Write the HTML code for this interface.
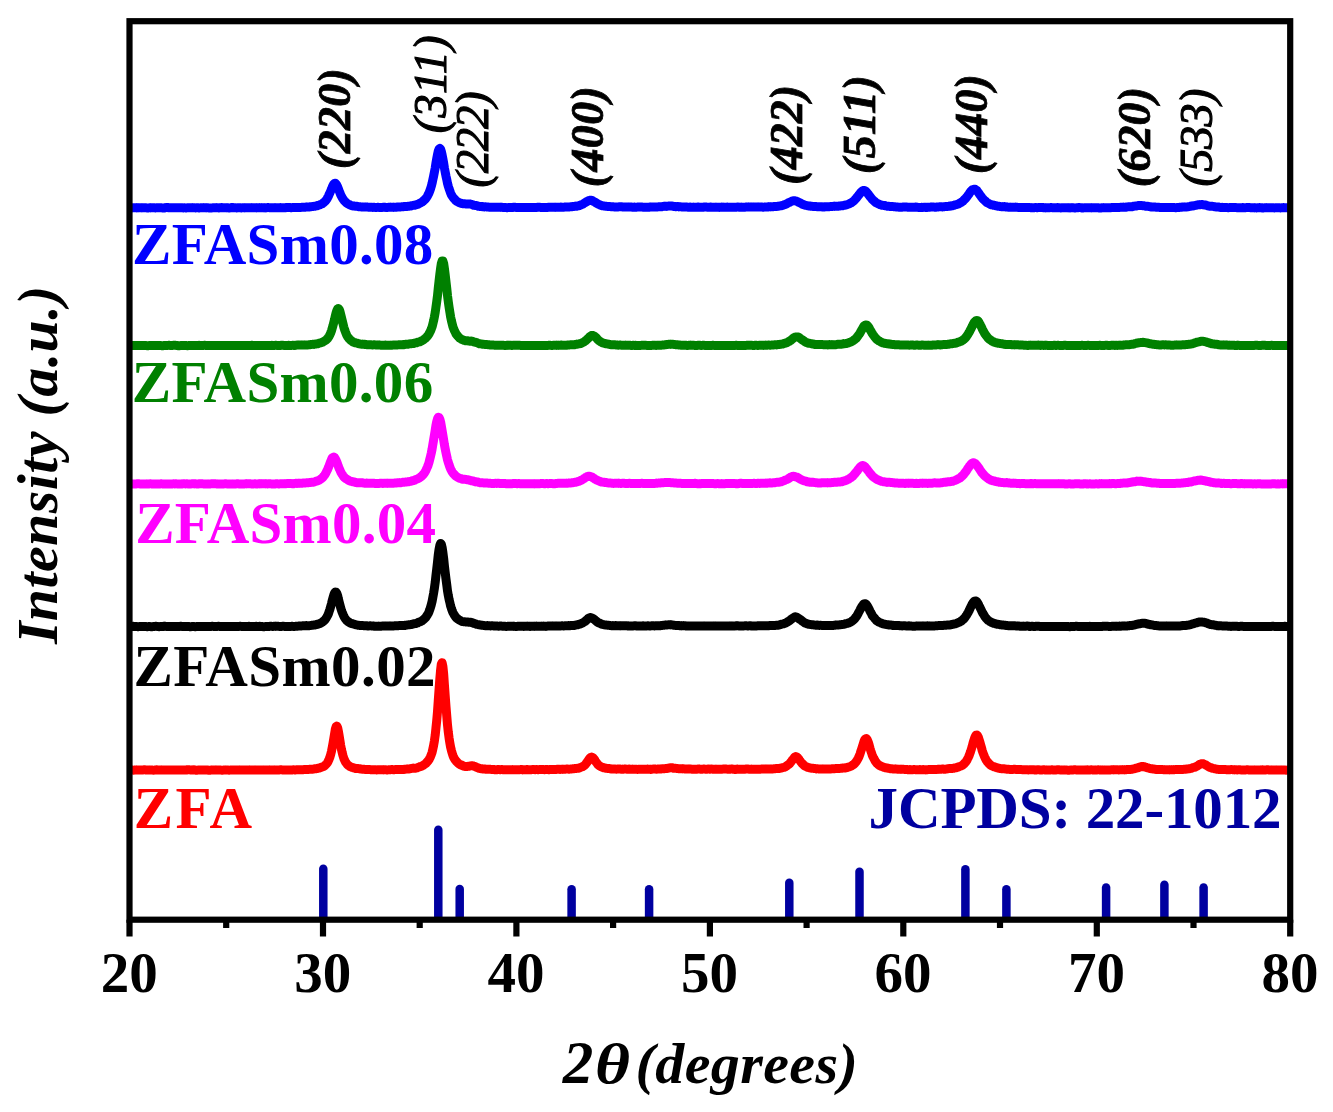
<!DOCTYPE html>
<html><head><meta charset="utf-8"><title>XRD patterns</title>
<style>html,body{margin:0;padding:0;background:#fff;}svg{display:block;}</style></head>
<body>
<svg width="1333" height="1112" viewBox="0 0 1333 1112">
<rect width="1333" height="1112" fill="#fff"/>
<line x1="323.3" y1="868.75" x2="323.3" y2="916.7" stroke="#0000a0" stroke-width="8.5" stroke-linecap="round"/>
<line x1="438.3" y1="829.75" x2="438.3" y2="916.7" stroke="#0000a0" stroke-width="8.5" stroke-linecap="round"/>
<line x1="459.7" y1="889.05" x2="459.7" y2="916.7" stroke="#0000a0" stroke-width="8.5" stroke-linecap="round"/>
<line x1="571.6" y1="889.35" x2="571.6" y2="916.7" stroke="#0000a0" stroke-width="8.5" stroke-linecap="round"/>
<line x1="649.1" y1="889.35" x2="649.1" y2="916.7" stroke="#0000a0" stroke-width="8.5" stroke-linecap="round"/>
<line x1="789.3" y1="882.65" x2="789.3" y2="916.7" stroke="#0000a0" stroke-width="8.5" stroke-linecap="round"/>
<line x1="859.5" y1="871.85" x2="859.5" y2="916.7" stroke="#0000a0" stroke-width="8.5" stroke-linecap="round"/>
<line x1="965.4" y1="869.15" x2="965.4" y2="916.7" stroke="#0000a0" stroke-width="8.5" stroke-linecap="round"/>
<line x1="1006.4" y1="889.35" x2="1006.4" y2="916.7" stroke="#0000a0" stroke-width="8.5" stroke-linecap="round"/>
<line x1="1106.1" y1="887.45" x2="1106.1" y2="916.7" stroke="#0000a0" stroke-width="8.5" stroke-linecap="round"/>
<line x1="1164.4" y1="884.75" x2="1164.4" y2="916.7" stroke="#0000a0" stroke-width="8.5" stroke-linecap="round"/>
<line x1="1203.6" y1="887.45" x2="1203.6" y2="916.7" stroke="#0000a0" stroke-width="8.5" stroke-linecap="round"/>
<polyline points="129.5,770.0 130.3,770.1 131.0,770.0 131.8,770.1 132.6,770.0 133.4,770.2 134.1,770.1 134.9,770.1 135.7,770.0 136.5,770.1 137.2,770.0 138.0,770.0 138.8,770.0 139.6,770.0 140.3,769.9 141.1,769.9 141.9,770.0 142.7,770.0 143.4,769.9 144.2,769.8 145.0,769.8 145.7,770.0 146.5,770.0 147.3,770.0 148.1,770.0 148.8,770.0 149.6,770.1 150.4,770.1 151.2,770.1 151.9,770.1 152.7,770.1 153.5,770.2 154.3,770.1 155.0,770.0 155.8,769.9 156.6,769.8 157.4,769.9 158.1,770.1 158.9,770.0 159.7,770.0 160.5,770.0 161.2,770.1 162.0,770.0 162.8,770.0 163.5,770.0 164.3,770.0 165.1,770.0 165.9,770.0 166.6,770.0 167.4,770.0 168.2,769.9 169.0,769.9 169.7,769.9 170.5,770.1 171.3,770.0 172.1,770.0 172.8,770.0 173.6,770.0 174.4,769.9 175.2,770.0 175.9,769.9 176.7,770.0 177.5,769.9 178.2,770.0 179.0,770.0 179.8,770.0 180.6,769.9 181.3,769.9 182.1,770.0 182.9,770.0 183.7,770.0 184.4,770.0 185.2,770.0 186.0,769.9 186.8,769.9 187.5,769.7 188.3,769.8 189.1,769.8 189.9,769.9 190.6,770.0 191.4,770.1 192.2,770.1 193.0,770.0 193.7,769.8 194.5,769.9 195.3,770.0 196.0,770.2 196.8,770.2 197.6,770.1 198.4,770.0 199.1,769.9 199.9,769.9 200.7,770.0 201.5,770.0 202.2,770.0 203.0,770.0 203.8,769.9 204.6,769.9 205.3,769.9 206.1,769.9 206.9,769.9 207.7,770.0 208.4,770.2 209.2,770.2 210.0,770.2 210.7,770.1 211.5,770.1 212.3,770.0 213.1,769.9 213.8,769.9 214.6,770.0 215.4,770.1 216.2,770.1 216.9,770.0 217.7,769.9 218.5,770.0 219.3,770.0 220.0,770.0 220.8,770.0 221.6,770.2 222.4,770.2 223.1,770.1 223.9,770.0 224.7,770.0 225.5,770.1 226.2,770.1 227.0,770.1 227.8,770.1 228.5,770.1 229.3,770.2 230.1,770.0 230.9,770.0 231.6,769.9 232.4,770.0 233.2,770.0 234.0,769.9 234.7,770.0 235.5,770.0 236.3,770.0 237.1,770.0 237.8,770.0 238.6,770.0 239.4,770.1 240.2,770.0 240.9,770.0 241.7,769.9 242.5,769.9 243.2,769.9 244.0,770.0 244.8,769.9 245.6,770.0 246.3,769.9 247.1,769.9 247.9,769.9 248.7,770.0 249.4,770.1 250.2,770.0 251.0,769.9 251.8,769.9 252.5,769.9 253.3,770.0 254.1,770.1 254.9,770.1 255.6,770.1 256.4,770.0 257.2,770.0 258.0,769.9 258.7,769.9 259.5,770.0 260.3,770.0 261.0,769.9 261.8,770.0 262.6,770.0 263.4,770.1 264.1,770.1 264.9,770.1 265.7,770.1 266.5,770.1 267.2,769.9 268.0,770.0 268.8,770.0 269.6,770.1 270.3,770.0 271.1,770.0 271.9,769.9 272.7,769.9 273.4,770.0 274.2,770.1 275.0,770.0 275.7,769.9 276.5,769.9 277.3,769.9 278.1,770.0 278.8,769.9 279.6,769.9 280.4,769.8 281.2,769.8 281.9,769.9 282.7,770.0 283.5,770.0 284.3,770.0 285.0,769.9 285.8,770.0 286.6,770.0 287.4,769.9 288.1,769.9 288.9,769.9 289.7,770.0 290.5,770.0 291.2,770.0 292.0,769.9 292.8,769.9 293.5,769.8 294.3,769.9 295.1,769.9 295.9,769.9 296.6,769.8 297.4,769.8 298.2,769.7 299.0,769.7 299.7,769.7 300.5,769.7 301.3,769.7 302.1,769.8 302.8,769.7 303.6,769.6 304.4,769.6 305.2,769.6 305.9,769.6 306.7,769.4 307.5,769.4 308.2,769.4 309.0,769.4 309.8,769.3 310.6,769.2 311.3,769.2 312.1,769.2 312.9,769.2 313.7,769.0 314.4,768.9 315.2,768.7 316.0,768.7 316.8,768.6 317.5,768.4 318.3,768.2 319.1,768.1 319.9,767.9 320.6,767.5 321.4,767.2 322.2,766.9 322.9,766.8 323.7,766.4 324.5,765.8 325.3,765.1 326.0,764.4 326.8,763.6 327.6,762.4 328.4,760.9 329.1,759.2 329.9,757.1 330.7,754.5 331.5,751.2 332.2,747.5 333.0,743.2 333.8,738.5 334.6,733.7 335.3,729.4 336.1,726.7 336.9,726.1 337.7,727.8 338.4,731.3 339.2,735.9 340.0,740.9 340.7,745.5 341.5,749.6 342.3,753.0 343.1,756.0 343.8,758.3 344.6,760.1 345.4,761.8 346.2,762.9 346.9,764.1 347.7,764.8 348.5,765.6 349.3,766.0 350.0,766.5 350.8,766.9 351.6,767.2 352.4,767.5 353.1,767.7 353.9,768.0 354.7,768.2 355.4,768.4 356.2,768.4 357.0,768.6 357.8,768.6 358.5,768.6 359.3,768.7 360.1,768.9 360.9,769.1 361.6,769.1 362.4,769.2 363.2,769.2 364.0,769.3 364.7,769.4 365.5,769.4 366.3,769.5 367.1,769.5 367.8,769.6 368.6,769.6 369.4,769.6 370.2,769.6 370.9,769.7 371.7,769.8 372.5,769.8 373.2,769.8 374.0,769.8 374.8,769.8 375.6,769.8 376.3,769.9 377.1,769.9 377.9,769.8 378.7,769.8 379.4,769.7 380.2,769.8 381.0,769.7 381.8,769.8 382.5,769.8 383.3,769.9 384.1,769.8 384.9,769.7 385.6,769.8 386.4,769.9 387.2,769.9 387.9,769.9 388.7,769.8 389.5,769.8 390.3,769.7 391.0,769.6 391.8,769.6 392.6,769.6 393.4,769.7 394.1,769.7 394.9,769.6 395.7,769.6 396.5,769.6 397.2,769.6 398.0,769.6 398.8,769.5 399.6,769.4 400.3,769.5 401.1,769.4 401.9,769.5 402.7,769.4 403.4,769.4 404.2,769.4 405.0,769.2 405.7,769.2 406.5,769.0 407.3,769.1 408.1,769.0 408.8,769.0 409.6,768.9 410.4,768.7 411.2,768.5 411.9,768.4 412.7,768.3 413.5,768.1 414.3,768.2 415.0,768.2 415.8,768.2 416.6,768.0 417.4,767.7 418.1,767.4 418.9,767.1 419.7,766.8 420.4,766.5 421.2,766.3 422.0,766.0 422.8,765.6 423.5,765.1 424.3,764.5 425.1,764.0 425.9,763.4 426.6,762.5 427.4,761.7 428.2,760.8 429.0,759.7 429.7,758.3 430.5,756.7 431.3,754.7 432.1,752.3 432.8,749.2 433.6,745.5 434.4,740.9 435.2,735.2 435.9,728.5 436.7,720.7 437.5,711.7 438.2,701.5 439.0,690.3 439.8,679.4 440.6,670.0 441.3,664.0 442.1,662.7 442.9,666.4 443.7,674.2 444.4,684.5 445.2,695.7 446.0,706.5 446.8,716.3 447.5,724.8 448.3,732.2 449.1,738.2 449.9,743.2 450.6,747.1 451.4,750.4 452.2,753.2 452.9,755.5 453.7,757.4 454.5,758.9 455.3,760.0 456.0,761.0 456.8,761.8 457.6,762.6 458.4,763.3 459.1,764.1 459.9,764.5 460.7,764.9 461.5,765.0 462.2,765.5 463.0,765.8 463.8,766.2 464.6,766.4 465.3,766.5 466.1,766.4 466.9,766.4 467.7,766.4 468.4,766.3 469.2,766.2 470.0,766.0 470.7,765.9 471.5,765.8 472.3,765.8 473.1,765.9 473.8,766.1 474.6,766.3 475.4,766.7 476.2,767.2 476.9,767.4 477.7,767.7 478.5,768.0 479.3,768.4 480.0,768.5 480.8,768.7 481.6,768.7 482.4,768.9 483.1,768.9 483.9,769.0 484.7,769.1 485.4,769.1 486.2,769.3 487.0,769.3 487.8,769.3 488.5,769.2 489.3,769.2 490.1,769.3 490.9,769.4 491.6,769.4 492.4,769.4 493.2,769.4 494.0,769.5 494.7,769.7 495.5,769.7 496.3,769.8 497.1,769.6 497.8,769.5 498.6,769.6 499.4,769.6 500.2,769.7 500.9,769.6 501.7,769.6 502.5,769.6 503.2,769.7 504.0,769.7 504.8,769.7 505.6,769.8 506.3,769.7 507.1,769.7 507.9,769.7 508.7,769.7 509.4,769.7 510.2,769.7 511.0,769.7 511.8,769.7 512.5,769.6 513.3,769.7 514.1,769.7 514.9,769.8 515.6,769.7 516.4,769.8 517.2,769.7 517.9,769.7 518.7,769.7 519.5,769.7 520.3,769.6 521.0,769.6 521.8,769.6 522.6,769.9 523.4,769.8 524.1,769.8 524.9,769.8 525.7,769.8 526.5,769.6 527.2,769.6 528.0,769.6 528.8,769.7 529.6,769.7 530.3,769.7 531.1,769.7 531.9,769.6 532.6,769.6 533.4,769.5 534.2,769.5 535.0,769.7 535.7,769.6 536.5,769.6 537.3,769.6 538.1,769.7 538.8,769.6 539.6,769.5 540.4,769.5 541.2,769.6 541.9,769.6 542.7,769.6 543.5,769.5 544.3,769.7 545.0,769.6 545.8,769.6 546.6,769.4 547.4,769.5 548.1,769.6 548.9,769.7 549.7,769.6 550.4,769.4 551.2,769.4 552.0,769.4 552.8,769.5 553.5,769.4 554.3,769.4 555.1,769.5 555.9,769.5 556.6,769.4 557.4,769.3 558.2,769.2 559.0,769.3 559.7,769.4 560.5,769.4 561.3,769.3 562.1,769.3 562.8,769.4 563.6,769.3 564.4,769.2 565.1,769.2 565.9,769.1 566.7,769.0 567.5,769.0 568.2,769.1 569.0,769.2 569.8,769.1 570.6,769.0 571.3,768.9 572.1,768.9 572.9,768.8 573.7,768.7 574.4,768.6 575.2,768.6 576.0,768.5 576.8,768.4 577.5,768.3 578.3,768.3 579.1,768.0 579.9,767.7 580.6,767.4 581.4,767.1 582.2,766.8 582.9,766.5 583.7,766.0 584.5,765.4 585.3,764.7 586.0,763.6 586.8,762.6 587.6,761.5 588.4,760.3 589.1,759.2 589.9,758.1 590.7,757.4 591.5,757.1 592.2,757.3 593.0,757.8 593.8,758.6 594.6,759.7 595.3,761.0 596.1,762.1 596.9,763.2 597.6,764.2 598.4,765.0 599.2,765.6 600.0,766.1 600.7,766.5 601.5,766.9 602.3,767.2 603.1,767.5 603.8,767.8 604.6,767.9 605.4,768.1 606.2,768.3 606.9,768.4 607.7,768.5 608.5,768.4 609.3,768.6 610.0,768.7 610.8,768.9 611.6,768.9 612.4,768.9 613.1,768.9 613.9,768.9 614.7,769.0 615.4,769.0 616.2,769.2 617.0,769.1 617.8,769.1 618.5,768.9 619.3,768.9 620.1,769.0 620.9,769.2 621.6,769.2 622.4,769.1 623.2,769.2 624.0,769.1 624.7,769.1 625.5,769.0 626.3,769.1 627.1,769.2 627.8,769.2 628.6,769.1 629.4,769.1 630.1,769.3 630.9,769.3 631.7,769.2 632.5,769.1 633.2,769.2 634.0,769.2 634.8,769.2 635.6,769.2 636.3,769.3 637.1,769.4 637.9,769.4 638.7,769.3 639.4,769.3 640.2,769.3 641.0,769.3 641.8,769.2 642.5,769.3 643.3,769.2 644.1,769.2 644.9,769.3 645.6,769.3 646.4,769.2 647.2,769.1 647.9,769.1 648.7,769.2 649.5,769.3 650.3,769.4 651.0,769.4 651.8,769.2 652.6,769.1 653.4,769.0 654.1,769.0 654.9,769.1 655.7,769.1 656.5,769.2 657.2,769.1 658.0,769.1 658.8,769.1 659.6,769.1 660.3,769.1 661.1,769.0 661.9,768.8 662.6,768.8 663.4,768.7 664.2,768.7 665.0,768.6 665.7,768.5 666.5,768.4 667.3,768.4 668.1,768.2 668.8,768.1 669.6,767.9 670.4,767.8 671.2,767.7 671.9,767.7 672.7,767.9 673.5,768.2 674.3,768.2 675.0,768.3 675.8,768.3 676.6,768.5 677.4,768.5 678.1,768.6 678.9,768.7 679.7,768.8 680.4,768.8 681.2,768.8 682.0,768.8 682.8,768.9 683.5,768.8 684.3,768.9 685.1,768.9 685.9,769.0 686.6,769.0 687.4,769.0 688.2,769.1 689.0,769.0 689.7,769.1 690.5,769.1 691.3,769.1 692.1,769.2 692.8,769.2 693.6,769.3 694.4,769.2 695.1,769.2 695.9,769.2 696.7,769.2 697.5,769.1 698.2,769.0 699.0,769.1 699.8,769.1 700.6,769.2 701.3,769.2 702.1,769.2 702.9,769.1 703.7,769.0 704.4,769.0 705.2,769.2 706.0,769.2 706.8,769.2 707.5,769.1 708.3,769.0 709.1,769.0 709.8,769.2 710.6,769.1 711.4,769.1 712.2,769.1 712.9,769.2 713.7,769.3 714.5,769.2 715.3,769.2 716.0,769.1 716.8,769.2 717.6,769.3 718.4,769.3 719.1,769.3 719.9,769.3 720.7,769.3 721.5,769.2 722.2,769.2 723.0,769.0 723.8,769.1 724.6,769.1 725.3,769.1 726.1,769.0 726.9,769.1 727.6,769.2 728.4,769.2 729.2,769.1 730.0,769.2 730.7,769.1 731.5,769.1 732.3,769.0 733.1,769.1 733.8,769.3 734.6,769.5 735.4,769.5 736.2,769.2 736.9,769.1 737.7,769.1 738.5,769.2 739.3,769.3 740.0,769.3 740.8,769.3 741.6,769.2 742.3,769.2 743.1,769.2 743.9,769.2 744.7,769.2 745.4,769.1 746.2,769.0 747.0,769.0 747.8,769.0 748.5,769.1 749.3,769.2 750.1,769.2 750.9,769.2 751.6,769.1 752.4,769.2 753.2,769.2 754.0,769.3 754.7,769.2 755.5,769.2 756.3,769.2 757.1,769.2 757.8,769.3 758.6,769.2 759.4,769.2 760.1,769.2 760.9,769.1 761.7,769.0 762.5,768.9 763.2,768.9 764.0,768.9 764.8,769.0 765.6,769.1 766.3,769.1 767.1,769.1 767.9,769.0 768.7,768.9 769.4,769.0 770.2,769.0 771.0,769.1 771.8,769.0 772.5,769.0 773.3,768.9 774.1,768.8 774.8,768.7 775.6,768.6 776.4,768.6 777.2,768.5 777.9,768.4 778.7,768.4 779.5,768.4 780.3,768.2 781.0,768.1 781.8,767.9 782.6,767.7 783.4,767.5 784.1,767.3 784.9,767.1 785.7,766.7 786.5,766.0 787.2,765.5 788.0,764.9 788.8,764.3 789.6,763.7 790.3,762.8 791.1,761.8 791.9,760.7 792.6,759.7 793.4,758.7 794.2,757.7 795.0,757.0 795.7,756.6 796.5,756.8 797.3,757.3 798.1,758.2 798.8,759.1 799.6,760.3 800.4,761.3 801.2,762.4 801.9,763.2 802.7,764.0 803.5,764.8 804.3,765.5 805.0,766.0 805.8,766.4 806.6,766.8 807.3,767.2 808.1,767.5 808.9,767.7 809.7,767.9 810.4,768.0 811.2,768.1 812.0,768.3 812.8,768.3 813.5,768.4 814.3,768.4 815.1,768.6 815.9,768.7 816.6,768.9 817.4,768.8 818.2,768.9 819.0,768.9 819.7,769.0 820.5,769.0 821.3,769.0 822.1,769.0 822.8,769.1 823.6,769.0 824.4,769.0 825.1,769.0 825.9,769.0 826.7,769.0 827.5,768.9 828.2,769.0 829.0,769.0 829.8,769.0 830.6,768.9 831.3,768.9 832.1,768.8 832.9,768.8 833.7,768.8 834.4,768.7 835.2,768.6 836.0,768.6 836.8,768.5 837.5,768.5 838.3,768.5 839.1,768.5 839.8,768.5 840.6,768.3 841.4,768.3 842.2,768.1 842.9,768.1 843.7,767.9 844.5,767.9 845.3,767.9 846.0,767.7 846.8,767.7 847.6,767.3 848.4,767.2 849.1,766.8 849.9,766.6 850.7,766.3 851.5,765.9 852.2,765.4 853.0,764.9 853.8,764.3 854.6,763.7 855.3,762.7 856.1,761.8 856.9,760.7 857.6,759.4 858.4,757.9 859.2,756.1 860.0,754.0 860.7,751.7 861.5,749.3 862.3,746.8 863.1,744.3 863.8,742.0 864.6,740.0 865.4,738.9 866.2,738.5 866.9,739.1 867.7,740.7 868.5,742.9 869.3,745.6 870.0,748.2 870.8,750.8 871.6,753.2 872.3,755.3 873.1,757.0 873.9,758.6 874.7,760.0 875.4,761.3 876.2,762.4 877.0,763.4 877.8,764.0 878.5,764.7 879.3,765.3 880.1,765.9 880.9,766.2 881.6,766.4 882.4,766.7 883.2,767.1 884.0,767.3 884.7,767.5 885.5,767.8 886.3,767.9 887.1,768.1 887.8,768.1 888.6,768.3 889.4,768.5 890.1,768.6 890.9,768.8 891.7,768.8 892.5,768.9 893.2,768.9 894.0,769.1 894.8,769.0 895.6,769.1 896.3,769.0 897.1,769.2 897.9,769.1 898.7,769.2 899.4,769.2 900.2,769.3 901.0,769.4 901.8,769.3 902.5,769.3 903.3,769.3 904.1,769.4 904.8,769.5 905.6,769.4 906.4,769.4 907.2,769.5 907.9,769.7 908.7,769.7 909.5,769.6 910.3,769.6 911.0,769.7 911.8,769.7 912.6,769.7 913.4,769.6 914.1,769.6 914.9,769.6 915.7,769.7 916.5,769.8 917.2,769.8 918.0,769.7 918.8,769.7 919.5,769.6 920.3,769.6 921.1,769.7 921.9,769.8 922.6,769.6 923.4,769.5 924.2,769.7 925.0,769.8 925.7,769.9 926.5,769.7 927.3,769.7 928.1,769.6 928.8,769.6 929.6,769.6 930.4,769.6 931.2,769.6 931.9,769.6 932.7,769.6 933.5,769.4 934.3,769.4 935.0,769.4 935.8,769.5 936.6,769.4 937.3,769.4 938.1,769.3 938.9,769.4 939.7,769.3 940.4,769.3 941.2,769.2 942.0,769.0 942.8,769.1 943.5,769.1 944.3,769.3 945.1,769.2 945.9,769.1 946.6,769.0 947.4,768.9 948.2,768.7 949.0,768.5 949.7,768.5 950.5,768.4 951.3,768.5 952.0,768.5 952.8,768.4 953.6,768.3 954.4,768.0 955.1,767.9 955.9,767.8 956.7,767.6 957.5,767.3 958.2,767.0 959.0,766.7 959.8,766.4 960.6,766.1 961.3,765.8 962.1,765.4 962.9,764.9 963.7,764.2 964.4,763.5 965.2,762.6 966.0,761.6 966.8,760.4 967.5,759.0 968.3,757.5 969.1,755.7 969.8,753.8 970.6,751.5 971.4,749.0 972.2,746.3 972.9,743.6 973.7,740.8 974.5,738.4 975.3,736.3 976.0,735.2 976.8,735.0 977.6,735.8 978.4,737.3 979.1,739.5 979.9,742.1 980.7,744.9 981.5,747.8 982.2,750.5 983.0,752.9 983.8,754.9 984.5,756.7 985.3,758.4 986.1,759.9 986.9,761.1 987.6,762.1 988.4,763.0 989.2,763.8 990.0,764.5 990.7,765.2 991.5,765.7 992.3,766.1 993.1,766.3 993.8,766.7 994.6,767.0 995.4,767.2 996.2,767.5 996.9,767.7 997.7,768.0 998.5,768.2 999.3,768.3 1000.0,768.5 1000.8,768.6 1001.6,768.7 1002.3,768.7 1003.1,768.8 1003.9,768.8 1004.7,768.9 1005.4,769.0 1006.2,769.1 1007.0,769.2 1007.8,769.3 1008.5,769.3 1009.3,769.4 1010.1,769.5 1010.9,769.5 1011.6,769.5 1012.4,769.4 1013.2,769.4 1014.0,769.3 1014.7,769.3 1015.5,769.4 1016.3,769.5 1017.0,769.6 1017.8,769.6 1018.6,769.6 1019.4,769.6 1020.1,769.5 1020.9,769.5 1021.7,769.6 1022.5,769.7 1023.2,769.8 1024.0,769.8 1024.8,769.7 1025.6,769.7 1026.3,769.7 1027.1,769.8 1027.9,769.9 1028.7,769.9 1029.4,769.8 1030.2,769.8 1031.0,769.8 1031.8,769.8 1032.5,769.8 1033.3,769.7 1034.1,769.9 1034.8,770.0 1035.6,770.1 1036.4,770.0 1037.2,769.8 1037.9,769.7 1038.7,769.8 1039.5,769.9 1040.3,769.9 1041.0,769.9 1041.8,769.9 1042.6,769.9 1043.4,769.8 1044.1,769.8 1044.9,769.9 1045.7,770.1 1046.5,770.1 1047.2,770.0 1048.0,769.9 1048.8,770.0 1049.5,770.0 1050.3,769.9 1051.1,769.9 1051.9,769.8 1052.6,769.9 1053.4,769.9 1054.2,770.0 1055.0,770.0 1055.7,769.9 1056.5,769.9 1057.3,769.8 1058.1,769.8 1058.8,769.8 1059.6,769.9 1060.4,770.0 1061.2,770.1 1061.9,770.1 1062.7,770.1 1063.5,770.1 1064.3,770.1 1065.0,770.0 1065.8,769.9 1066.6,770.0 1067.3,770.1 1068.1,770.2 1068.9,770.2 1069.7,770.1 1070.4,770.1 1071.2,770.1 1072.0,770.1 1072.8,770.0 1073.5,769.9 1074.3,769.8 1075.1,769.8 1075.9,769.9 1076.6,769.9 1077.4,769.9 1078.2,769.9 1079.0,769.9 1079.7,770.0 1080.5,770.0 1081.3,770.0 1082.0,770.0 1082.8,769.9 1083.6,769.9 1084.4,770.0 1085.1,770.1 1085.9,770.0 1086.7,769.9 1087.5,769.8 1088.2,770.0 1089.0,770.0 1089.8,770.0 1090.6,769.9 1091.3,769.8 1092.1,769.9 1092.9,769.9 1093.7,770.0 1094.4,770.0 1095.2,770.1 1096.0,770.0 1096.7,770.0 1097.5,769.9 1098.3,769.8 1099.1,769.9 1099.8,770.0 1100.6,770.1 1101.4,770.0 1102.2,770.1 1102.9,770.0 1103.7,770.0 1104.5,770.1 1105.3,770.1 1106.0,770.1 1106.8,769.9 1107.6,769.9 1108.4,769.9 1109.1,770.0 1109.9,769.9 1110.7,769.9 1111.5,769.8 1112.2,769.8 1113.0,769.8 1113.8,769.9 1114.5,769.8 1115.3,769.8 1116.1,769.7 1116.9,769.8 1117.6,769.8 1118.4,769.9 1119.2,769.9 1120.0,769.8 1120.7,769.8 1121.5,769.7 1122.3,769.6 1123.1,769.7 1123.8,769.8 1124.6,769.9 1125.4,769.8 1126.2,769.6 1126.9,769.5 1127.7,769.5 1128.5,769.5 1129.2,769.5 1130.0,769.5 1130.8,769.5 1131.6,769.3 1132.3,769.2 1133.1,769.0 1133.9,768.8 1134.7,768.6 1135.4,768.4 1136.2,768.2 1137.0,767.9 1137.8,767.8 1138.5,767.5 1139.3,767.2 1140.1,766.9 1140.9,766.8 1141.6,766.6 1142.4,766.6 1143.2,766.5 1144.0,766.6 1144.7,766.8 1145.5,767.2 1146.3,767.4 1147.0,767.6 1147.8,767.8 1148.6,768.1 1149.4,768.4 1150.1,768.5 1150.9,768.7 1151.7,768.7 1152.5,768.9 1153.2,768.9 1154.0,769.1 1154.8,769.2 1155.6,769.4 1156.3,769.5 1157.1,769.5 1157.9,769.6 1158.7,769.5 1159.4,769.6 1160.2,769.5 1161.0,769.5 1161.7,769.5 1162.5,769.5 1163.3,769.7 1164.1,769.6 1164.8,769.7 1165.6,769.7 1166.4,769.7 1167.2,769.7 1167.9,769.7 1168.7,769.8 1169.5,769.9 1170.3,769.8 1171.0,769.7 1171.8,769.6 1172.6,769.7 1173.4,769.6 1174.1,769.7 1174.9,769.6 1175.7,769.6 1176.5,769.5 1177.2,769.5 1178.0,769.6 1178.8,769.6 1179.5,769.6 1180.3,769.6 1181.1,769.5 1181.9,769.5 1182.6,769.4 1183.4,769.4 1184.2,769.3 1185.0,769.3 1185.7,769.1 1186.5,769.0 1187.3,768.9 1188.1,768.9 1188.8,768.8 1189.6,768.7 1190.4,768.5 1191.2,768.4 1191.9,768.1 1192.7,767.7 1193.5,767.5 1194.2,767.3 1195.0,767.1 1195.8,766.7 1196.6,766.4 1197.3,766.0 1198.1,765.5 1198.9,764.9 1199.7,764.4 1200.4,764.0 1201.2,763.8 1202.0,763.7 1202.8,763.7 1203.5,763.9 1204.3,764.3 1205.1,764.6 1205.9,765.0 1206.6,765.5 1207.4,766.0 1208.2,766.5 1209.0,766.9 1209.7,767.3 1210.5,767.5 1211.3,767.8 1212.0,768.1 1212.8,768.3 1213.6,768.5 1214.4,768.7 1215.1,768.9 1215.9,769.0 1216.7,769.2 1217.5,769.3 1218.2,769.4 1219.0,769.4 1219.8,769.5 1220.6,769.5 1221.3,769.5 1222.1,769.4 1222.9,769.5 1223.7,769.5 1224.4,769.6 1225.2,769.6 1226.0,769.6 1226.7,769.7 1227.5,769.7 1228.3,769.7 1229.1,769.7 1229.8,769.7 1230.6,769.6 1231.4,769.5 1232.2,769.6 1232.9,769.7 1233.7,769.8 1234.5,769.9 1235.3,769.8 1236.0,769.8 1236.8,769.9 1237.6,769.9 1238.4,769.8 1239.1,769.8 1239.9,769.8 1240.7,769.9 1241.5,769.9 1242.2,770.0 1243.0,770.0 1243.8,770.0 1244.5,769.9 1245.3,770.0 1246.1,769.9 1246.9,769.8 1247.6,769.8 1248.4,769.9 1249.2,769.9 1250.0,770.0 1250.7,769.9 1251.5,769.9 1252.3,769.9 1253.1,770.0 1253.8,770.0 1254.6,770.1 1255.4,770.0 1256.2,769.9 1256.9,770.0 1257.7,769.9 1258.5,770.0 1259.2,769.9 1260.0,770.1 1260.8,770.1 1261.6,770.0 1262.3,769.8 1263.1,769.9 1263.9,769.9 1264.7,770.0 1265.4,769.9 1266.2,769.9 1267.0,769.8 1267.8,769.8 1268.5,769.9 1269.3,769.9 1270.1,770.0 1270.9,770.0 1271.6,770.1 1272.4,770.1 1273.2,770.1 1274.0,770.1 1274.7,770.1 1275.5,770.1 1276.3,770.1 1277.0,770.0 1277.8,769.9 1278.6,769.9 1279.4,770.0 1280.1,770.0 1280.9,770.1 1281.7,770.1 1282.5,770.1 1283.2,770.1 1284.0,769.9 1284.8,770.0 1285.6,770.1 1286.3,770.2 1287.1,770.0 1287.9,770.0 1288.7,770.1 1289.4,770.1 1290.2,770.0" fill="none" stroke="#ff0000" stroke-width="9.0" stroke-linejoin="round" stroke-linecap="butt"/>
<polyline points="129.5,626.5 130.3,626.4 131.0,626.5 131.8,626.4 132.6,626.4 133.4,626.3 134.1,626.6 134.9,626.6 135.7,626.6 136.5,626.5 137.2,626.6 138.0,626.7 138.8,626.6 139.6,626.5 140.3,626.5 141.1,626.6 141.9,626.5 142.7,626.5 143.4,626.5 144.2,626.6 145.0,626.6 145.7,626.6 146.5,626.6 147.3,626.7 148.1,626.6 148.8,626.5 149.6,626.5 150.4,626.6 151.2,626.7 151.9,626.7 152.7,626.6 153.5,626.5 154.3,626.4 155.0,626.4 155.8,626.3 156.6,626.4 157.4,626.5 158.1,626.5 158.9,626.7 159.7,626.6 160.5,626.6 161.2,626.5 162.0,626.5 162.8,626.5 163.5,626.3 164.3,626.4 165.1,626.3 165.9,626.4 166.6,626.4 167.4,626.5 168.2,626.5 169.0,626.5 169.7,626.5 170.5,626.5 171.3,626.5 172.1,626.5 172.8,626.4 173.6,626.5 174.4,626.5 175.2,626.6 175.9,626.6 176.7,626.6 177.5,626.6 178.2,626.6 179.0,626.6 179.8,626.4 180.6,626.3 181.3,626.3 182.1,626.5 182.9,626.6 183.7,626.6 184.4,626.4 185.2,626.4 186.0,626.5 186.8,626.5 187.5,626.5 188.3,626.4 189.1,626.6 189.9,626.7 190.6,626.7 191.4,626.6 192.2,626.5 193.0,626.6 193.7,626.6 194.5,626.6 195.3,626.7 196.0,626.6 196.8,626.5 197.6,626.4 198.4,626.4 199.1,626.5 199.9,626.4 200.7,626.5 201.5,626.5 202.2,626.5 203.0,626.5 203.8,626.5 204.6,626.5 205.3,626.4 206.1,626.4 206.9,626.4 207.7,626.5 208.4,626.5 209.2,626.4 210.0,626.4 210.7,626.4 211.5,626.4 212.3,626.3 213.1,626.4 213.8,626.4 214.6,626.4 215.4,626.5 216.2,626.5 216.9,626.5 217.7,626.4 218.5,626.3 219.3,626.4 220.0,626.5 220.8,626.6 221.6,626.5 222.4,626.4 223.1,626.4 223.9,626.6 224.7,626.6 225.5,626.6 226.2,626.5 227.0,626.5 227.8,626.5 228.5,626.6 229.3,626.5 230.1,626.5 230.9,626.5 231.6,626.5 232.4,626.5 233.2,626.6 234.0,626.5 234.7,626.5 235.5,626.6 236.3,626.6 237.1,626.6 237.8,626.6 238.6,626.5 239.4,626.4 240.2,626.3 240.9,626.4 241.7,626.5 242.5,626.6 243.2,626.6 244.0,626.5 244.8,626.5 245.6,626.4 246.3,626.5 247.1,626.5 247.9,626.5 248.7,626.3 249.4,626.4 250.2,626.4 251.0,626.4 251.8,626.4 252.5,626.4 253.3,626.4 254.1,626.5 254.9,626.4 255.6,626.4 256.4,626.3 257.2,626.5 258.0,626.4 258.7,626.5 259.5,626.3 260.3,626.4 261.0,626.4 261.8,626.6 262.6,626.6 263.4,626.7 264.1,626.7 264.9,626.6 265.7,626.5 266.5,626.5 267.2,626.5 268.0,626.5 268.8,626.4 269.6,626.4 270.3,626.3 271.1,626.3 271.9,626.4 272.7,626.5 273.4,626.4 274.2,626.3 275.0,626.3 275.7,626.4 276.5,626.3 277.3,626.3 278.1,626.3 278.8,626.4 279.6,626.5 280.4,626.5 281.2,626.5 281.9,626.4 282.7,626.3 283.5,626.3 284.3,626.4 285.0,626.5 285.8,626.5 286.6,626.5 287.4,626.5 288.1,626.4 288.9,626.4 289.7,626.5 290.5,626.4 291.2,626.4 292.0,626.3 292.8,626.4 293.5,626.5 294.3,626.5 295.1,626.4 295.9,626.3 296.6,626.3 297.4,626.2 298.2,626.1 299.0,626.1 299.7,626.1 300.5,626.0 301.3,626.0 302.1,625.9 302.8,625.8 303.6,625.8 304.4,625.8 305.2,625.7 305.9,625.6 306.7,625.6 307.5,625.7 308.2,625.8 309.0,625.7 309.8,625.6 310.6,625.5 311.3,625.4 312.1,625.3 312.9,625.1 313.7,625.0 314.4,625.1 315.2,624.9 316.0,624.7 316.8,624.3 317.5,624.3 318.3,624.1 319.1,623.8 319.9,623.5 320.6,623.2 321.4,622.8 322.2,622.3 322.9,621.7 323.7,621.0 324.5,620.3 325.3,619.4 326.0,618.3 326.8,617.0 327.6,615.5 328.4,613.8 329.1,611.7 329.9,609.3 330.7,606.5 331.5,603.6 332.2,600.6 333.0,597.7 333.8,594.9 334.6,592.9 335.3,592.0 336.1,592.2 336.9,593.6 337.7,595.8 338.4,598.9 339.2,602.0 340.0,605.1 340.7,607.9 341.5,610.5 342.3,612.7 343.1,614.7 343.8,616.2 344.6,617.7 345.4,618.8 346.2,619.9 346.9,620.7 347.7,621.4 348.5,621.9 349.3,622.4 350.0,622.9 350.8,623.3 351.6,623.6 352.4,623.7 353.1,623.9 353.9,624.1 354.7,624.4 355.4,624.6 356.2,624.8 357.0,625.0 357.8,625.2 358.5,625.3 359.3,625.4 360.1,625.4 360.9,625.4 361.6,625.5 362.4,625.6 363.2,625.6 364.0,625.7 364.7,625.7 365.5,625.7 366.3,625.7 367.1,625.9 367.8,625.9 368.6,626.0 369.4,625.9 370.2,625.8 370.9,625.9 371.7,626.0 372.5,626.0 373.2,626.1 374.0,626.1 374.8,626.3 375.6,626.3 376.3,626.3 377.1,626.2 377.9,626.2 378.7,626.1 379.4,626.2 380.2,626.2 381.0,626.2 381.8,626.1 382.5,626.0 383.3,626.0 384.1,626.0 384.9,626.1 385.6,626.1 386.4,626.1 387.2,625.9 387.9,626.0 388.7,626.0 389.5,626.1 390.3,626.1 391.0,626.0 391.8,625.9 392.6,625.9 393.4,625.9 394.1,625.9 394.9,625.8 395.7,625.7 396.5,625.8 397.2,625.7 398.0,625.7 398.8,625.6 399.6,625.6 400.3,625.5 401.1,625.6 401.9,625.5 402.7,625.4 403.4,625.4 404.2,625.4 405.0,625.4 405.7,625.2 406.5,625.1 407.3,625.0 408.1,624.9 408.8,624.8 409.6,624.7 410.4,624.6 411.2,624.6 411.9,624.3 412.7,624.1 413.5,623.9 414.3,623.7 415.0,623.6 415.8,623.5 416.6,623.2 417.4,623.0 418.1,622.5 418.9,622.1 419.7,621.9 420.4,621.6 421.2,621.2 422.0,620.8 422.8,620.2 423.5,619.6 424.3,618.9 425.1,618.1 425.9,617.3 426.6,616.1 427.4,614.8 428.2,613.5 429.0,611.8 429.7,609.8 430.5,607.3 431.3,604.6 432.1,601.4 432.8,597.7 433.6,593.3 434.4,588.2 435.2,582.4 435.9,576.1 436.7,569.2 437.5,562.2 438.2,555.4 439.0,549.6 439.8,545.5 440.6,543.5 441.3,544.2 442.1,547.3 442.9,552.5 443.7,558.8 444.4,565.7 445.2,572.5 446.0,579.1 446.8,585.2 447.5,590.7 448.3,595.4 449.1,599.5 449.9,602.8 450.6,605.9 451.4,608.5 452.2,610.8 452.9,612.5 453.7,614.0 454.5,615.3 455.3,616.5 456.0,617.4 456.8,618.2 457.6,618.8 458.4,619.4 459.1,619.9 459.9,620.3 460.7,620.8 461.5,621.1 462.2,621.5 463.0,621.6 463.8,621.7 464.6,621.8 465.3,621.9 466.1,621.9 466.9,622.0 467.7,622.0 468.4,622.1 469.2,622.3 470.0,622.2 470.7,622.4 471.5,622.5 472.3,622.8 473.1,623.1 473.8,623.3 474.6,623.6 475.4,623.9 476.2,624.1 476.9,624.3 477.7,624.5 478.5,624.7 479.3,624.8 480.0,624.9 480.8,625.1 481.6,625.2 482.4,625.3 483.1,625.4 483.9,625.5 484.7,625.6 485.4,625.7 486.2,625.7 487.0,625.6 487.8,625.6 488.5,625.7 489.3,625.8 490.1,625.9 490.9,625.9 491.6,625.8 492.4,625.8 493.2,625.9 494.0,626.0 494.7,626.1 495.5,626.1 496.3,626.1 497.1,626.1 497.8,626.1 498.6,626.2 499.4,626.1 500.2,626.1 500.9,626.1 501.7,626.1 502.5,626.2 503.2,626.2 504.0,626.2 504.8,626.3 505.6,626.4 506.3,626.5 507.1,626.4 507.9,626.3 508.7,626.2 509.4,626.3 510.2,626.3 511.0,626.3 511.8,626.3 512.5,626.3 513.3,626.4 514.1,626.3 514.9,626.4 515.6,626.4 516.4,626.4 517.2,626.4 517.9,626.3 518.7,626.3 519.5,626.2 520.3,626.2 521.0,626.3 521.8,626.2 522.6,626.3 523.4,626.2 524.1,626.4 524.9,626.3 525.7,626.3 526.5,626.2 527.2,626.1 528.0,626.2 528.8,626.3 529.6,626.4 530.3,626.4 531.1,626.2 531.9,626.3 532.6,626.2 533.4,626.3 534.2,626.4 535.0,626.3 535.7,626.3 536.5,626.1 537.3,626.2 538.1,626.2 538.8,626.3 539.6,626.2 540.4,626.2 541.2,626.2 541.9,626.1 542.7,626.2 543.5,626.1 544.3,626.3 545.0,626.3 545.8,626.4 546.6,626.2 547.4,626.1 548.1,626.1 548.9,626.1 549.7,626.1 550.4,626.1 551.2,626.1 552.0,626.1 552.8,626.1 553.5,626.0 554.3,626.0 555.1,626.1 555.9,626.1 556.6,626.1 557.4,626.0 558.2,626.0 559.0,626.0 559.7,626.0 560.5,626.0 561.3,625.9 562.1,625.8 562.8,625.9 563.6,626.0 564.4,625.9 565.1,625.8 565.9,625.7 566.7,625.7 567.5,625.7 568.2,625.6 569.0,625.6 569.8,625.7 570.6,625.6 571.3,625.4 572.1,625.5 572.9,625.5 573.7,625.6 574.4,625.4 575.2,625.2 576.0,625.0 576.8,624.9 577.5,624.8 578.3,624.5 579.1,624.2 579.9,624.1 580.6,623.8 581.4,623.5 582.2,623.1 582.9,622.8 583.7,622.3 584.5,621.8 585.3,621.2 586.0,620.5 586.8,619.8 587.6,619.1 588.4,618.3 589.1,617.9 589.9,617.6 590.7,617.6 591.5,617.8 592.2,618.1 593.0,618.6 593.8,619.1 594.6,619.7 595.3,620.3 596.1,621.1 596.9,621.6 597.6,622.3 598.4,622.7 599.2,623.0 600.0,623.3 600.7,623.6 601.5,624.1 602.3,624.3 603.1,624.5 603.8,624.7 604.6,624.9 605.4,625.0 606.2,625.0 606.9,625.1 607.7,625.2 608.5,625.3 609.3,625.4 610.0,625.5 610.8,625.6 611.6,625.7 612.4,625.6 613.1,625.7 613.9,625.6 614.7,625.7 615.4,625.6 616.2,625.6 617.0,625.7 617.8,625.7 618.5,625.7 619.3,625.8 620.1,625.9 620.9,625.8 621.6,625.8 622.4,625.8 623.2,625.8 624.0,625.8 624.7,625.8 625.5,625.8 626.3,625.8 627.1,625.8 627.8,626.0 628.6,626.1 629.4,626.0 630.1,626.0 630.9,626.0 631.7,626.0 632.5,626.0 633.2,626.0 634.0,625.8 634.8,625.8 635.6,625.8 636.3,625.9 637.1,626.1 637.9,626.0 638.7,626.0 639.4,626.0 640.2,626.0 641.0,626.1 641.8,625.9 642.5,625.9 643.3,625.8 644.1,626.0 644.9,626.0 645.6,625.9 646.4,625.9 647.2,625.9 647.9,625.8 648.7,625.9 649.5,625.9 650.3,625.9 651.0,625.9 651.8,625.8 652.6,625.8 653.4,625.8 654.1,625.9 654.9,625.9 655.7,625.8 656.5,625.7 657.2,625.7 658.0,625.8 658.8,625.8 659.6,625.8 660.3,625.7 661.1,625.5 661.9,625.4 662.6,625.4 663.4,625.3 664.2,625.2 665.0,625.0 665.7,625.1 666.5,625.0 667.3,625.0 668.1,624.8 668.8,624.8 669.6,624.8 670.4,624.9 671.2,624.8 671.9,624.9 672.7,625.0 673.5,625.2 674.3,625.3 675.0,625.4 675.8,625.5 676.6,625.6 677.4,625.6 678.1,625.6 678.9,625.5 679.7,625.6 680.4,625.8 681.2,625.9 682.0,625.8 682.8,625.7 683.5,625.6 684.3,625.7 685.1,625.8 685.9,626.0 686.6,626.1 687.4,626.1 688.2,626.1 689.0,626.0 689.7,625.9 690.5,625.9 691.3,626.0 692.1,625.9 692.8,625.9 693.6,625.9 694.4,625.9 695.1,625.9 695.9,625.9 696.7,626.0 697.5,626.0 698.2,626.1 699.0,625.9 699.8,625.9 700.6,625.9 701.3,626.0 702.1,626.0 702.9,626.0 703.7,626.1 704.4,626.1 705.2,626.0 706.0,626.0 706.8,626.0 707.5,626.0 708.3,626.0 709.1,626.0 709.8,626.0 710.6,626.0 711.4,625.9 712.2,625.9 712.9,626.0 713.7,626.1 714.5,626.1 715.3,626.1 716.0,626.0 716.8,626.0 717.6,625.9 718.4,625.9 719.1,626.0 719.9,626.0 720.7,626.0 721.5,625.9 722.2,626.0 723.0,626.0 723.8,626.0 724.6,626.0 725.3,626.0 726.1,626.0 726.9,626.0 727.6,625.9 728.4,626.1 729.2,626.0 730.0,626.1 730.7,626.0 731.5,626.1 732.3,626.1 733.1,626.0 733.8,626.1 734.6,625.9 735.4,625.9 736.2,625.8 736.9,625.9 737.7,625.8 738.5,625.9 739.3,625.9 740.0,626.0 740.8,625.9 741.6,625.9 742.3,626.0 743.1,625.9 743.9,626.0 744.7,625.8 745.4,625.8 746.2,625.8 747.0,625.9 747.8,625.9 748.5,626.0 749.3,625.8 750.1,625.7 750.9,625.9 751.6,625.9 752.4,626.0 753.2,625.9 754.0,625.9 754.7,625.9 755.5,625.9 756.3,625.9 757.1,625.9 757.8,625.8 758.6,625.8 759.4,625.8 760.1,625.8 760.9,625.8 761.7,625.8 762.5,625.8 763.2,625.8 764.0,625.8 764.8,625.8 765.6,625.8 766.3,625.8 767.1,625.8 767.9,625.7 768.7,625.7 769.4,625.5 770.2,625.6 771.0,625.6 771.8,625.6 772.5,625.5 773.3,625.5 774.1,625.5 774.8,625.4 775.6,625.4 776.4,625.3 777.2,625.2 777.9,625.2 778.7,625.1 779.5,624.9 780.3,624.6 781.0,624.4 781.8,624.2 782.6,624.0 783.4,623.8 784.1,623.6 784.9,623.3 785.7,623.0 786.5,622.5 787.2,622.1 788.0,621.6 788.8,621.2 789.6,620.6 790.3,620.1 791.1,619.3 791.9,618.8 792.6,618.2 793.4,617.7 794.2,617.2 795.0,616.8 795.7,616.9 796.5,617.1 797.3,617.5 798.1,618.0 798.8,618.6 799.6,619.1 800.4,619.6 801.2,620.2 801.9,620.8 802.7,621.4 803.5,622.0 804.3,622.5 805.0,623.0 805.8,623.3 806.6,623.6 807.3,623.8 808.1,624.1 808.9,624.3 809.7,624.4 810.4,624.5 811.2,624.6 812.0,624.7 812.8,624.8 813.5,624.9 814.3,625.0 815.1,625.1 815.9,625.2 816.6,625.1 817.4,625.1 818.2,625.3 819.0,625.4 819.7,625.4 820.5,625.3 821.3,625.4 822.1,625.5 822.8,625.6 823.6,625.6 824.4,625.4 825.1,625.5 825.9,625.4 826.7,625.4 827.5,625.4 828.2,625.5 829.0,625.5 829.8,625.4 830.6,625.4 831.3,625.4 832.1,625.4 832.9,625.4 833.7,625.4 834.4,625.3 835.2,625.1 836.0,625.1 836.8,625.0 837.5,625.0 838.3,624.9 839.1,624.9 839.8,624.8 840.6,624.7 841.4,624.5 842.2,624.5 842.9,624.5 843.7,624.3 844.5,624.1 845.3,623.8 846.0,623.7 846.8,623.5 847.6,623.3 848.4,623.0 849.1,622.8 849.9,622.4 850.7,622.0 851.5,621.6 852.2,620.9 853.0,620.3 853.8,619.6 854.6,618.9 855.3,617.9 856.1,616.9 856.9,615.8 857.6,614.4 858.4,613.0 859.2,611.5 860.0,610.0 860.7,608.6 861.5,607.2 862.3,605.9 863.1,604.8 863.8,604.0 864.6,603.7 865.4,603.8 866.2,604.3 866.9,605.3 867.7,606.5 868.5,607.9 869.3,609.5 870.0,611.1 870.8,612.6 871.6,614.0 872.3,615.5 873.1,616.6 873.9,617.4 874.7,618.3 875.4,619.3 876.2,620.3 877.0,620.9 877.8,621.4 878.5,621.9 879.3,622.3 880.1,622.6 880.9,622.9 881.6,623.3 882.4,623.6 883.2,624.0 884.0,624.0 884.7,624.2 885.5,624.4 886.3,624.5 887.1,624.7 887.8,624.7 888.6,624.9 889.4,625.1 890.1,625.1 890.9,625.0 891.7,625.1 892.5,625.2 893.2,625.5 894.0,625.6 894.8,625.5 895.6,625.4 896.3,625.4 897.1,625.5 897.9,625.6 898.7,625.6 899.4,625.6 900.2,625.8 901.0,625.8 901.8,625.9 902.5,625.9 903.3,625.8 904.1,625.8 904.8,625.8 905.6,625.9 906.4,626.0 907.2,626.0 907.9,626.0 908.7,625.8 909.5,625.9 910.3,626.0 911.0,626.0 911.8,626.1 912.6,626.2 913.4,626.3 914.1,626.2 914.9,626.2 915.7,626.1 916.5,626.1 917.2,626.0 918.0,626.0 918.8,626.0 919.5,626.0 920.3,626.0 921.1,626.0 921.9,626.0 922.6,626.1 923.4,626.1 924.2,626.0 925.0,626.0 925.7,625.9 926.5,626.0 927.3,625.8 928.1,625.9 928.8,626.0 929.6,626.1 930.4,626.0 931.2,626.0 931.9,625.9 932.7,626.0 933.5,626.0 934.3,625.9 935.0,625.9 935.8,625.8 936.6,625.8 937.3,625.7 938.1,625.6 938.9,625.5 939.7,625.5 940.4,625.4 941.2,625.5 942.0,625.5 942.8,625.5 943.5,625.4 944.3,625.3 945.1,625.2 945.9,625.2 946.6,625.1 947.4,625.0 948.2,625.0 949.0,625.0 949.7,625.0 950.5,624.9 951.3,624.7 952.0,624.4 952.8,624.3 953.6,624.1 954.4,624.0 955.1,623.8 955.9,623.6 956.7,623.3 957.5,622.9 958.2,622.6 959.0,622.3 959.8,622.0 960.6,621.5 961.3,621.0 962.1,620.3 962.9,619.7 963.7,619.0 964.4,618.2 965.2,617.2 966.0,615.9 966.8,614.8 967.5,613.6 968.3,612.2 969.1,610.7 969.8,609.0 970.6,607.3 971.4,605.7 972.2,604.1 972.9,602.9 973.7,601.8 974.5,601.2 975.3,600.9 976.0,601.1 976.8,601.7 977.6,602.8 978.4,604.2 979.1,605.7 979.9,607.3 980.7,608.9 981.5,610.6 982.2,612.1 983.0,613.6 983.8,614.8 984.5,616.0 985.3,617.2 986.1,618.2 986.9,619.1 987.6,619.8 988.4,620.5 989.2,621.0 990.0,621.6 990.7,621.9 991.5,622.4 992.3,622.8 993.1,623.1 993.8,623.3 994.6,623.4 995.4,623.7 996.2,624.0 996.9,624.2 997.7,624.3 998.5,624.4 999.3,624.5 1000.0,624.7 1000.8,624.8 1001.6,625.0 1002.3,624.9 1003.1,625.0 1003.9,625.1 1004.7,625.2 1005.4,625.4 1006.2,625.5 1007.0,625.6 1007.8,625.6 1008.5,625.7 1009.3,625.7 1010.1,625.7 1010.9,625.8 1011.6,625.8 1012.4,625.8 1013.2,625.8 1014.0,625.8 1014.7,625.8 1015.5,625.9 1016.3,626.0 1017.0,626.1 1017.8,626.1 1018.6,626.1 1019.4,626.1 1020.1,626.2 1020.9,626.3 1021.7,626.3 1022.5,626.2 1023.2,626.1 1024.0,626.2 1024.8,626.2 1025.6,626.2 1026.3,626.1 1027.1,626.0 1027.9,626.0 1028.7,626.2 1029.4,626.4 1030.2,626.4 1031.0,626.4 1031.8,626.3 1032.5,626.3 1033.3,626.4 1034.1,626.6 1034.8,626.5 1035.6,626.4 1036.4,626.2 1037.2,626.2 1037.9,626.2 1038.7,626.3 1039.5,626.4 1040.3,626.4 1041.0,626.4 1041.8,626.5 1042.6,626.5 1043.4,626.5 1044.1,626.5 1044.9,626.6 1045.7,626.5 1046.5,626.4 1047.2,626.4 1048.0,626.4 1048.8,626.4 1049.5,626.5 1050.3,626.5 1051.1,626.6 1051.9,626.6 1052.6,626.5 1053.4,626.4 1054.2,626.4 1055.0,626.5 1055.7,626.6 1056.5,626.6 1057.3,626.6 1058.1,626.5 1058.8,626.5 1059.6,626.6 1060.4,626.6 1061.2,626.5 1061.9,626.4 1062.7,626.4 1063.5,626.4 1064.3,626.4 1065.0,626.5 1065.8,626.5 1066.6,626.5 1067.3,626.4 1068.1,626.5 1068.9,626.6 1069.7,626.7 1070.4,626.6 1071.2,626.6 1072.0,626.5 1072.8,626.6 1073.5,626.6 1074.3,626.5 1075.1,626.4 1075.9,626.3 1076.6,626.3 1077.4,626.4 1078.2,626.5 1079.0,626.5 1079.7,626.5 1080.5,626.5 1081.3,626.5 1082.0,626.4 1082.8,626.5 1083.6,626.5 1084.4,626.5 1085.1,626.5 1085.9,626.5 1086.7,626.5 1087.5,626.5 1088.2,626.4 1089.0,626.5 1089.8,626.3 1090.6,626.5 1091.3,626.6 1092.1,626.6 1092.9,626.4 1093.7,626.4 1094.4,626.5 1095.2,626.5 1096.0,626.4 1096.7,626.4 1097.5,626.4 1098.3,626.5 1099.1,626.5 1099.8,626.6 1100.6,626.6 1101.4,626.6 1102.2,626.4 1102.9,626.3 1103.7,626.2 1104.5,626.2 1105.3,626.3 1106.0,626.3 1106.8,626.3 1107.6,626.3 1108.4,626.4 1109.1,626.4 1109.9,626.4 1110.7,626.5 1111.5,626.4 1112.2,626.3 1113.0,626.2 1113.8,626.2 1114.5,626.2 1115.3,626.3 1116.1,626.4 1116.9,626.3 1117.6,626.3 1118.4,626.2 1119.2,626.1 1120.0,626.1 1120.7,626.2 1121.5,626.1 1122.3,626.1 1123.1,626.0 1123.8,626.1 1124.6,626.1 1125.4,626.0 1126.2,625.9 1126.9,625.9 1127.7,625.9 1128.5,625.8 1129.2,625.6 1130.0,625.5 1130.8,625.5 1131.6,625.4 1132.3,625.4 1133.1,625.2 1133.9,625.1 1134.7,624.9 1135.4,624.7 1136.2,624.5 1137.0,624.2 1137.8,624.1 1138.5,623.9 1139.3,623.8 1140.1,623.7 1140.9,623.5 1141.6,623.4 1142.4,623.3 1143.2,623.3 1144.0,623.3 1144.7,623.3 1145.5,623.4 1146.3,623.6 1147.0,623.9 1147.8,624.1 1148.6,624.3 1149.4,624.4 1150.1,624.6 1150.9,624.8 1151.7,624.8 1152.5,625.0 1153.2,625.1 1154.0,625.4 1154.8,625.4 1155.6,625.5 1156.3,625.5 1157.1,625.6 1157.9,625.8 1158.7,625.9 1159.4,626.0 1160.2,626.0 1161.0,626.0 1161.7,625.9 1162.5,625.9 1163.3,625.9 1164.1,625.9 1164.8,626.0 1165.6,626.0 1166.4,626.1 1167.2,626.0 1167.9,626.0 1168.7,626.0 1169.5,626.0 1170.3,626.0 1171.0,625.9 1171.8,625.9 1172.6,625.9 1173.4,626.1 1174.1,626.1 1174.9,626.1 1175.7,625.9 1176.5,625.9 1177.2,625.9 1178.0,625.9 1178.8,625.9 1179.5,626.0 1180.3,626.0 1181.1,625.8 1181.9,625.6 1182.6,625.5 1183.4,625.5 1184.2,625.5 1185.0,625.6 1185.7,625.5 1186.5,625.4 1187.3,625.2 1188.1,625.1 1188.8,625.0 1189.6,624.9 1190.4,624.7 1191.2,624.4 1191.9,624.1 1192.7,623.9 1193.5,623.8 1194.2,623.4 1195.0,623.1 1195.8,623.0 1196.6,622.8 1197.3,622.6 1198.1,622.3 1198.9,622.1 1199.7,621.9 1200.4,622.0 1201.2,621.9 1202.0,622.0 1202.8,622.1 1203.5,622.2 1204.3,622.3 1205.1,622.5 1205.9,622.8 1206.6,623.0 1207.4,623.3 1208.2,623.7 1209.0,624.0 1209.7,624.2 1210.5,624.5 1211.3,624.5 1212.0,624.7 1212.8,624.7 1213.6,624.9 1214.4,625.1 1215.1,625.2 1215.9,625.4 1216.7,625.5 1217.5,625.8 1218.2,625.8 1219.0,625.9 1219.8,625.8 1220.6,625.8 1221.3,625.8 1222.1,626.0 1222.9,625.9 1223.7,625.9 1224.4,625.9 1225.2,625.9 1226.0,625.9 1226.7,626.0 1227.5,626.1 1228.3,626.2 1229.1,626.2 1229.8,626.3 1230.6,626.4 1231.4,626.4 1232.2,626.3 1232.9,626.2 1233.7,626.2 1234.5,626.3 1235.3,626.2 1236.0,626.2 1236.8,626.3 1237.6,626.4 1238.4,626.4 1239.1,626.4 1239.9,626.4 1240.7,626.3 1241.5,626.2 1242.2,626.3 1243.0,626.4 1243.8,626.4 1244.5,626.4 1245.3,626.4 1246.1,626.5 1246.9,626.5 1247.6,626.4 1248.4,626.4 1249.2,626.4 1250.0,626.5 1250.7,626.5 1251.5,626.6 1252.3,626.5 1253.1,626.5 1253.8,626.5 1254.6,626.6 1255.4,626.5 1256.2,626.4 1256.9,626.4 1257.7,626.4 1258.5,626.5 1259.2,626.4 1260.0,626.5 1260.8,626.4 1261.6,626.5 1262.3,626.5 1263.1,626.6 1263.9,626.5 1264.7,626.4 1265.4,626.5 1266.2,626.5 1267.0,626.5 1267.8,626.4 1268.5,626.4 1269.3,626.4 1270.1,626.5 1270.9,626.4 1271.6,626.4 1272.4,626.3 1273.2,626.3 1274.0,626.4 1274.7,626.5 1275.5,626.5 1276.3,626.5 1277.0,626.5 1277.8,626.5 1278.6,626.4 1279.4,626.4 1280.1,626.5 1280.9,626.6 1281.7,626.5 1282.5,626.5 1283.2,626.4 1284.0,626.4 1284.8,626.3 1285.6,626.4 1286.3,626.6 1287.1,626.6 1287.9,626.6 1288.7,626.6 1289.4,626.4 1290.2,626.4" fill="none" stroke="#000000" stroke-width="9.0" stroke-linejoin="round" stroke-linecap="butt"/>
<polyline points="129.5,483.8 130.3,483.8 131.0,483.9 131.8,483.9 132.6,484.0 133.4,484.0 134.1,484.0 134.9,483.9 135.7,483.9 136.5,483.9 137.2,483.8 138.0,483.8 138.8,483.8 139.6,483.9 140.3,483.9 141.1,484.0 141.9,484.0 142.7,483.9 143.4,484.0 144.2,483.9 145.0,484.0 145.7,484.0 146.5,484.1 147.3,484.0 148.1,484.1 148.8,484.0 149.6,483.9 150.4,483.8 151.2,483.9 151.9,483.9 152.7,484.0 153.5,484.0 154.3,483.9 155.0,483.9 155.8,483.9 156.6,484.1 157.4,484.0 158.1,484.0 158.9,484.0 159.7,483.9 160.5,483.9 161.2,483.8 162.0,483.9 162.8,483.9 163.5,483.9 164.3,483.9 165.1,483.9 165.9,483.9 166.6,483.9 167.4,483.9 168.2,483.9 169.0,483.9 169.7,484.0 170.5,484.0 171.3,483.9 172.1,483.9 172.8,483.9 173.6,483.8 174.4,483.9 175.2,483.9 175.9,483.8 176.7,483.9 177.5,484.0 178.2,484.0 179.0,483.9 179.8,483.9 180.6,484.0 181.3,484.1 182.1,484.0 182.9,483.8 183.7,483.8 184.4,483.8 185.2,483.9 186.0,483.9 186.8,483.8 187.5,483.9 188.3,484.0 189.1,484.0 189.9,484.0 190.6,483.9 191.4,483.9 192.2,483.8 193.0,483.8 193.7,483.7 194.5,483.9 195.3,483.8 196.0,483.9 196.8,483.9 197.6,484.0 198.4,484.0 199.1,483.8 199.9,483.7 200.7,483.7 201.5,483.7 202.2,483.8 203.0,483.9 203.8,484.0 204.6,484.0 205.3,483.9 206.1,484.0 206.9,484.0 207.7,484.1 208.4,484.1 209.2,484.0 210.0,483.9 210.7,483.9 211.5,483.8 212.3,483.8 213.1,483.7 213.8,483.7 214.6,483.7 215.4,483.8 216.2,483.9 216.9,484.0 217.7,484.1 218.5,484.0 219.3,483.9 220.0,483.9 220.8,483.9 221.6,483.9 222.4,484.0 223.1,484.0 223.9,484.0 224.7,483.8 225.5,483.8 226.2,483.8 227.0,484.0 227.8,484.0 228.5,484.0 229.3,483.9 230.1,483.9 230.9,483.9 231.6,484.0 232.4,484.1 233.2,484.1 234.0,483.9 234.7,483.9 235.5,483.9 236.3,483.9 237.1,483.8 237.8,483.8 238.6,483.9 239.4,483.9 240.2,484.0 240.9,483.9 241.7,483.9 242.5,483.9 243.2,483.9 244.0,483.9 244.8,483.9 245.6,483.8 246.3,483.9 247.1,483.8 247.9,483.8 248.7,483.8 249.4,483.8 250.2,483.8 251.0,483.9 251.8,483.9 252.5,484.0 253.3,483.9 254.1,483.9 254.9,483.8 255.6,483.9 256.4,483.9 257.2,483.9 258.0,483.9 258.7,483.8 259.5,483.9 260.3,483.8 261.0,483.9 261.8,483.8 262.6,483.8 263.4,483.7 264.1,483.8 264.9,483.8 265.7,483.9 266.5,483.8 267.2,483.9 268.0,483.9 268.8,483.8 269.6,483.8 270.3,483.8 271.1,483.9 271.9,483.9 272.7,483.9 273.4,483.9 274.2,483.9 275.0,484.0 275.7,483.8 276.5,483.8 277.3,483.8 278.1,483.9 278.8,483.9 279.6,483.9 280.4,483.8 281.2,483.7 281.9,483.7 282.7,483.7 283.5,483.7 284.3,483.7 285.0,483.6 285.8,483.7 286.6,483.6 287.4,483.6 288.1,483.6 288.9,483.6 289.7,483.6 290.5,483.6 291.2,483.5 292.0,483.7 292.8,483.6 293.5,483.7 294.3,483.4 295.1,483.4 295.9,483.3 296.6,483.4 297.4,483.4 298.2,483.3 299.0,483.4 299.7,483.3 300.5,483.3 301.3,483.2 302.1,483.2 302.8,483.0 303.6,483.0 304.4,483.0 305.2,482.9 305.9,482.9 306.7,482.8 307.5,482.8 308.2,482.7 309.0,482.6 309.8,482.6 310.6,482.5 311.3,482.3 312.1,482.3 312.9,482.2 313.7,482.2 314.4,481.9 315.2,481.6 316.0,481.3 316.8,481.0 317.5,480.8 318.3,480.6 319.1,480.2 319.9,479.7 320.6,479.2 321.4,478.6 322.2,478.0 322.9,477.2 323.7,476.3 324.5,475.3 325.3,474.1 326.0,472.7 326.8,471.1 327.6,469.5 328.4,467.6 329.1,465.7 329.9,463.5 330.7,461.4 331.5,459.5 332.2,458.0 333.0,457.3 333.8,457.1 334.6,457.6 335.3,458.7 336.1,460.3 336.9,462.2 337.7,464.3 338.4,466.5 339.2,468.5 340.0,470.2 340.7,471.9 341.5,473.3 342.3,474.6 343.1,475.8 343.8,476.8 344.6,477.7 345.4,478.4 346.2,478.8 346.9,479.2 347.7,479.7 348.5,480.3 349.3,480.7 350.0,481.1 350.8,481.2 351.6,481.5 352.4,481.7 353.1,481.8 353.9,481.9 354.7,482.1 355.4,482.4 356.2,482.6 357.0,482.7 357.8,482.7 358.5,482.8 359.3,482.8 360.1,482.7 360.9,482.7 361.6,482.7 362.4,482.8 363.2,483.0 364.0,483.1 364.7,483.2 365.5,483.2 366.3,483.1 367.1,483.1 367.8,483.2 368.6,483.2 369.4,483.3 370.2,483.3 370.9,483.3 371.7,483.3 372.5,483.3 373.2,483.3 374.0,483.3 374.8,483.4 375.6,483.6 376.3,483.6 377.1,483.5 377.9,483.4 378.7,483.4 379.4,483.4 380.2,483.3 381.0,483.3 381.8,483.3 382.5,483.4 383.3,483.4 384.1,483.3 384.9,483.3 385.6,483.3 386.4,483.3 387.2,483.4 387.9,483.3 388.7,483.3 389.5,483.2 390.3,483.3 391.0,483.3 391.8,483.3 392.6,483.2 393.4,483.2 394.1,483.1 394.9,483.1 395.7,483.1 396.5,483.0 397.2,482.9 398.0,482.7 398.8,482.7 399.6,482.6 400.3,482.7 401.1,482.7 401.9,482.5 402.7,482.3 403.4,482.2 404.2,482.2 405.0,482.1 405.7,482.1 406.5,482.0 407.3,481.9 408.1,481.8 408.8,481.6 409.6,481.5 410.4,481.3 411.2,481.1 411.9,480.9 412.7,480.7 413.5,480.6 414.3,480.3 415.0,480.0 415.8,479.6 416.6,479.2 417.4,478.9 418.1,478.6 418.9,478.2 419.7,477.7 420.4,477.2 421.2,476.5 422.0,475.8 422.8,475.0 423.5,474.2 424.3,473.2 425.1,471.9 425.9,470.4 426.6,468.8 427.4,467.0 428.2,465.0 429.0,462.5 429.7,459.7 430.5,456.5 431.3,453.0 432.1,449.0 432.8,444.7 433.6,440.0 434.4,435.2 435.2,430.3 435.9,425.7 436.7,421.7 437.5,418.9 438.2,417.3 439.0,417.4 439.8,419.1 440.6,421.9 441.3,425.8 442.1,430.4 442.9,435.3 443.7,440.2 444.4,444.6 445.2,448.9 446.0,452.9 446.8,456.5 447.5,459.7 448.3,462.4 449.1,464.9 449.9,467.1 450.6,469.0 451.4,470.6 452.2,472.0 452.9,473.0 453.7,473.9 454.5,474.6 455.3,475.6 456.0,476.3 456.8,476.8 457.6,477.2 458.4,477.7 459.1,478.1 459.9,478.3 460.7,478.5 461.5,478.8 462.2,479.1 463.0,479.3 463.8,479.2 464.6,479.3 465.3,479.4 466.1,479.5 466.9,479.6 467.7,479.8 468.4,479.9 469.2,480.1 470.0,480.3 470.7,480.5 471.5,480.8 472.3,480.9 473.1,481.0 473.8,481.3 474.6,481.6 475.4,481.9 476.2,481.8 476.9,481.9 477.7,482.0 478.5,482.3 479.3,482.5 480.0,482.7 480.8,482.7 481.6,482.7 482.4,482.8 483.1,482.9 483.9,483.0 484.7,483.0 485.4,483.0 486.2,483.0 487.0,483.0 487.8,483.1 488.5,483.2 489.3,483.2 490.1,483.3 490.9,483.4 491.6,483.5 492.4,483.4 493.2,483.5 494.0,483.4 494.7,483.4 495.5,483.3 496.3,483.4 497.1,483.4 497.8,483.3 498.6,483.3 499.4,483.4 500.2,483.6 500.9,483.6 501.7,483.6 502.5,483.5 503.2,483.4 504.0,483.5 504.8,483.6 505.6,483.6 506.3,483.7 507.1,483.7 507.9,483.7 508.7,483.7 509.4,483.7 510.2,483.7 511.0,483.7 511.8,483.7 512.5,483.6 513.3,483.6 514.1,483.6 514.9,483.6 515.6,483.6 516.4,483.6 517.2,483.7 517.9,483.6 518.7,483.6 519.5,483.6 520.3,483.7 521.0,483.8 521.8,483.7 522.6,483.7 523.4,483.7 524.1,483.7 524.9,483.8 525.7,483.7 526.5,483.8 527.2,483.7 528.0,483.8 528.8,483.7 529.6,483.7 530.3,483.7 531.1,483.7 531.9,483.7 532.6,483.7 533.4,483.8 534.2,483.9 535.0,483.8 535.7,483.7 536.5,483.7 537.3,483.8 538.1,483.8 538.8,483.7 539.6,483.7 540.4,483.6 541.2,483.6 541.9,483.5 542.7,483.6 543.5,483.6 544.3,483.7 545.0,483.7 545.8,483.6 546.6,483.6 547.4,483.6 548.1,483.7 548.9,483.6 549.7,483.5 550.4,483.4 551.2,483.5 552.0,483.5 552.8,483.7 553.5,483.7 554.3,483.8 555.1,483.6 555.9,483.5 556.6,483.4 557.4,483.4 558.2,483.3 559.0,483.3 559.7,483.2 560.5,483.3 561.3,483.3 562.1,483.3 562.8,483.2 563.6,483.2 564.4,483.2 565.1,483.2 565.9,483.2 566.7,483.1 567.5,483.2 568.2,483.1 569.0,483.1 569.8,483.0 570.6,483.0 571.3,482.9 572.1,482.8 572.9,482.6 573.7,482.5 574.4,482.4 575.2,482.3 576.0,482.1 576.8,481.9 577.5,481.7 578.3,481.5 579.1,481.2 579.9,480.9 580.6,480.5 581.4,480.1 582.2,479.7 582.9,479.3 583.7,478.8 584.5,478.2 585.3,477.7 586.0,477.2 586.8,476.9 587.6,476.4 588.4,476.3 589.1,476.3 589.9,476.3 590.7,476.5 591.5,476.9 592.2,477.2 593.0,477.8 593.8,478.2 594.6,478.8 595.3,479.3 596.1,479.7 596.9,480.1 597.6,480.4 598.4,480.8 599.2,481.1 600.0,481.5 600.7,481.7 601.5,482.0 602.3,482.0 603.1,482.2 603.8,482.2 604.6,482.4 605.4,482.4 606.2,482.5 606.9,482.7 607.7,482.9 608.5,483.0 609.3,483.0 610.0,483.0 610.8,483.0 611.6,483.2 612.4,483.3 613.1,483.4 613.9,483.4 614.7,483.3 615.4,483.3 616.2,483.3 617.0,483.3 617.8,483.3 618.5,483.4 619.3,483.3 620.1,483.4 620.9,483.4 621.6,483.4 622.4,483.3 623.2,483.3 624.0,483.3 624.7,483.4 625.5,483.4 626.3,483.5 627.1,483.5 627.8,483.4 628.6,483.4 629.4,483.3 630.1,483.4 630.9,483.4 631.7,483.5 632.5,483.6 633.2,483.6 634.0,483.6 634.8,483.5 635.6,483.6 636.3,483.5 637.1,483.5 637.9,483.5 638.7,483.5 639.4,483.5 640.2,483.4 641.0,483.4 641.8,483.3 642.5,483.4 643.3,483.5 644.1,483.5 644.9,483.4 645.6,483.4 646.4,483.4 647.2,483.5 647.9,483.6 648.7,483.6 649.5,483.6 650.3,483.5 651.0,483.4 651.8,483.4 652.6,483.4 653.4,483.5 654.1,483.5 654.9,483.5 655.7,483.3 656.5,483.1 657.2,483.2 658.0,483.1 658.8,483.1 659.6,483.0 660.3,483.0 661.1,482.9 661.9,482.7 662.6,482.7 663.4,482.7 664.2,482.6 665.0,482.5 665.7,482.4 666.5,482.4 667.3,482.5 668.1,482.5 668.8,482.6 669.6,482.6 670.4,482.6 671.2,482.7 671.9,482.7 672.7,482.8 673.5,482.9 674.3,483.0 675.0,482.9 675.8,483.0 676.6,483.1 677.4,483.2 678.1,483.3 678.9,483.2 679.7,483.2 680.4,483.3 681.2,483.4 682.0,483.5 682.8,483.5 683.5,483.5 684.3,483.5 685.1,483.4 685.9,483.5 686.6,483.5 687.4,483.5 688.2,483.5 689.0,483.4 689.7,483.5 690.5,483.5 691.3,483.6 692.1,483.6 692.8,483.6 693.6,483.4 694.4,483.4 695.1,483.3 695.9,483.4 696.7,483.6 697.5,483.7 698.2,483.7 699.0,483.7 699.8,483.6 700.6,483.7 701.3,483.5 702.1,483.5 702.9,483.5 703.7,483.5 704.4,483.6 705.2,483.5 706.0,483.5 706.8,483.5 707.5,483.4 708.3,483.5 709.1,483.5 709.8,483.6 710.6,483.6 711.4,483.6 712.2,483.6 712.9,483.6 713.7,483.6 714.5,483.7 715.3,483.8 716.0,483.7 716.8,483.6 717.6,483.5 718.4,483.6 719.1,483.7 719.9,483.7 720.7,483.7 721.5,483.6 722.2,483.8 723.0,483.7 723.8,483.8 724.6,483.7 725.3,483.6 726.1,483.5 726.9,483.5 727.6,483.5 728.4,483.6 729.2,483.6 730.0,483.6 730.7,483.5 731.5,483.6 732.3,483.5 733.1,483.4 733.8,483.4 734.6,483.5 735.4,483.6 736.2,483.7 736.9,483.6 737.7,483.7 738.5,483.6 739.3,483.5 740.0,483.3 740.8,483.3 741.6,483.3 742.3,483.5 743.1,483.5 743.9,483.5 744.7,483.4 745.4,483.4 746.2,483.5 747.0,483.5 747.8,483.5 748.5,483.5 749.3,483.4 750.1,483.4 750.9,483.4 751.6,483.5 752.4,483.5 753.2,483.4 754.0,483.3 754.7,483.4 755.5,483.4 756.3,483.6 757.1,483.4 757.8,483.3 758.6,483.3 759.4,483.4 760.1,483.4 760.9,483.3 761.7,483.3 762.5,483.3 763.2,483.2 764.0,483.2 764.8,483.2 765.6,483.1 766.3,483.1 767.1,483.2 767.9,483.1 768.7,482.9 769.4,482.9 770.2,482.8 771.0,483.0 771.8,482.9 772.5,482.9 773.3,482.8 774.1,482.8 774.8,482.6 775.6,482.5 776.4,482.4 777.2,482.3 777.9,482.2 778.7,482.2 779.5,482.1 780.3,481.9 781.0,481.8 781.8,481.6 782.6,481.2 783.4,480.9 784.1,480.6 784.9,480.2 785.7,479.9 786.5,479.6 787.2,479.3 788.0,478.9 788.8,478.4 789.6,477.9 790.3,477.4 791.1,476.9 791.9,476.6 792.6,476.4 793.4,476.3 794.2,476.4 795.0,476.6 795.7,476.8 796.5,477.0 797.3,477.3 798.1,477.7 798.8,478.3 799.6,478.8 800.4,479.2 801.2,479.6 801.9,479.9 802.7,480.3 803.5,480.6 804.3,480.8 805.0,481.0 805.8,481.2 806.6,481.6 807.3,481.8 808.1,481.9 808.9,482.1 809.7,482.1 810.4,482.3 811.2,482.3 812.0,482.4 812.8,482.3 813.5,482.3 814.3,482.5 815.1,482.6 815.9,482.7 816.6,482.8 817.4,482.9 818.2,482.9 819.0,482.9 819.7,482.9 820.5,482.9 821.3,482.9 822.1,482.7 822.8,482.7 823.6,482.8 824.4,482.8 825.1,482.7 825.9,482.7 826.7,482.8 827.5,482.9 828.2,482.8 829.0,482.8 829.8,482.8 830.6,482.7 831.3,482.6 832.1,482.5 832.9,482.5 833.7,482.4 834.4,482.3 835.2,482.3 836.0,482.3 836.8,482.2 837.5,482.1 838.3,482.0 839.1,481.9 839.8,482.0 840.6,481.9 841.4,481.8 842.2,481.6 842.9,481.3 843.7,481.0 844.5,480.8 845.3,480.7 846.0,480.4 846.8,480.0 847.6,479.6 848.4,479.3 849.1,478.8 849.9,478.3 850.7,477.8 851.5,477.2 852.2,476.7 853.0,476.0 853.8,475.0 854.6,474.1 855.3,473.1 856.1,472.3 856.9,471.3 857.6,470.3 858.4,469.2 859.2,468.2 860.0,467.3 860.7,466.5 861.5,466.0 862.3,465.6 863.1,465.6 863.8,465.9 864.6,466.5 865.4,467.2 866.2,468.2 866.9,469.2 867.7,470.3 868.5,471.3 869.3,472.3 870.0,473.3 870.8,474.2 871.6,475.0 872.3,475.9 873.1,476.8 873.9,477.3 874.7,477.9 875.4,478.4 876.2,479.0 877.0,479.5 877.8,479.8 878.5,480.2 879.3,480.4 880.1,480.8 880.9,481.1 881.6,481.3 882.4,481.5 883.2,481.7 884.0,481.8 884.7,481.9 885.5,482.0 886.3,482.2 887.1,482.4 887.8,482.3 888.6,482.3 889.4,482.3 890.1,482.4 890.9,482.5 891.7,482.5 892.5,482.6 893.2,482.7 894.0,482.9 894.8,483.0 895.6,483.0 896.3,482.9 897.1,483.0 897.9,483.1 898.7,483.2 899.4,483.3 900.2,483.3 901.0,483.3 901.8,483.3 902.5,483.3 903.3,483.3 904.1,483.4 904.8,483.4 905.6,483.4 906.4,483.2 907.2,483.3 907.9,483.3 908.7,483.4 909.5,483.3 910.3,483.3 911.0,483.2 911.8,483.2 912.6,483.3 913.4,483.4 914.1,483.5 914.9,483.5 915.7,483.4 916.5,483.3 917.2,483.5 918.0,483.4 918.8,483.5 919.5,483.4 920.3,483.3 921.1,483.3 921.9,483.3 922.6,483.4 923.4,483.3 924.2,483.3 925.0,483.2 925.7,483.2 926.5,483.3 927.3,483.4 928.1,483.4 928.8,483.3 929.6,483.2 930.4,483.2 931.2,483.2 931.9,483.2 932.7,483.1 933.5,483.0 934.3,482.8 935.0,482.8 935.8,483.0 936.6,483.0 937.3,483.0 938.1,482.9 938.9,483.0 939.7,482.9 940.4,482.9 941.2,482.8 942.0,482.6 942.8,482.5 943.5,482.4 944.3,482.3 945.1,482.3 945.9,482.1 946.6,482.1 947.4,481.9 948.2,481.8 949.0,481.7 949.7,481.7 950.5,481.6 951.3,481.5 952.0,481.3 952.8,481.2 953.6,480.9 954.4,480.6 955.1,480.3 955.9,480.1 956.7,479.7 957.5,479.2 958.2,478.8 959.0,478.5 959.8,478.1 960.6,477.5 961.3,476.7 962.1,476.0 962.9,475.3 963.7,474.4 964.4,473.4 965.2,472.4 966.0,471.4 966.8,470.2 967.5,469.0 968.3,467.9 969.1,466.7 969.8,465.7 970.6,464.7 971.4,463.8 972.2,463.2 972.9,462.8 973.7,462.8 974.5,463.1 975.3,463.6 976.0,464.5 976.8,465.3 977.6,466.3 978.4,467.4 979.1,468.4 979.9,469.7 980.7,470.8 981.5,472.1 982.2,473.1 983.0,474.0 983.8,474.8 984.5,475.7 985.3,476.4 986.1,477.0 986.9,477.6 987.6,478.2 988.4,478.7 989.2,479.3 990.0,479.6 990.7,480.1 991.5,480.3 992.3,480.6 993.1,480.8 993.8,480.9 994.6,481.0 995.4,481.4 996.2,481.6 996.9,481.7 997.7,481.8 998.5,481.9 999.3,482.2 1000.0,482.3 1000.8,482.4 1001.6,482.4 1002.3,482.5 1003.1,482.6 1003.9,482.7 1004.7,482.7 1005.4,482.7 1006.2,482.6 1007.0,482.6 1007.8,482.8 1008.5,483.0 1009.3,483.1 1010.1,483.1 1010.9,483.2 1011.6,483.2 1012.4,483.2 1013.2,483.1 1014.0,483.2 1014.7,483.3 1015.5,483.3 1016.3,483.4 1017.0,483.4 1017.8,483.4 1018.6,483.4 1019.4,483.5 1020.1,483.7 1020.9,483.6 1021.7,483.6 1022.5,483.4 1023.2,483.4 1024.0,483.5 1024.8,483.6 1025.6,483.7 1026.3,483.8 1027.1,483.8 1027.9,483.8 1028.7,483.8 1029.4,483.8 1030.2,483.6 1031.0,483.6 1031.8,483.5 1032.5,483.7 1033.3,483.7 1034.1,483.6 1034.8,483.6 1035.6,483.6 1036.4,483.7 1037.2,483.8 1037.9,483.7 1038.7,483.7 1039.5,483.8 1040.3,483.8 1041.0,483.8 1041.8,483.7 1042.6,483.7 1043.4,483.8 1044.1,483.8 1044.9,483.7 1045.7,483.7 1046.5,483.8 1047.2,483.7 1048.0,483.8 1048.8,483.7 1049.5,483.8 1050.3,483.8 1051.1,483.8 1051.9,483.8 1052.6,483.8 1053.4,483.8 1054.2,483.8 1055.0,483.8 1055.7,483.8 1056.5,483.7 1057.3,483.8 1058.1,483.7 1058.8,483.6 1059.6,483.7 1060.4,483.7 1061.2,483.8 1061.9,483.8 1062.7,483.8 1063.5,483.8 1064.3,483.8 1065.0,484.0 1065.8,483.9 1066.6,484.0 1067.3,483.9 1068.1,483.9 1068.9,483.8 1069.7,483.8 1070.4,483.9 1071.2,483.9 1072.0,483.9 1072.8,483.9 1073.5,483.9 1074.3,483.9 1075.1,483.8 1075.9,483.8 1076.6,483.7 1077.4,483.7 1078.2,483.8 1079.0,483.8 1079.7,483.9 1080.5,483.9 1081.3,483.9 1082.0,483.9 1082.8,483.9 1083.6,483.9 1084.4,483.7 1085.1,483.7 1085.9,483.8 1086.7,484.0 1087.5,484.1 1088.2,484.0 1089.0,483.9 1089.8,483.8 1090.6,483.9 1091.3,483.9 1092.1,483.9 1092.9,483.9 1093.7,484.0 1094.4,483.9 1095.2,483.9 1096.0,483.8 1096.7,483.8 1097.5,484.0 1098.3,483.9 1099.1,483.9 1099.8,483.6 1100.6,483.7 1101.4,483.6 1102.2,483.8 1102.9,483.7 1103.7,483.8 1104.5,483.8 1105.3,483.8 1106.0,483.7 1106.8,483.7 1107.6,483.7 1108.4,483.7 1109.1,483.6 1109.9,483.6 1110.7,483.8 1111.5,483.6 1112.2,483.5 1113.0,483.4 1113.8,483.5 1114.5,483.6 1115.3,483.7 1116.1,483.7 1116.9,483.6 1117.6,483.6 1118.4,483.6 1119.2,483.5 1120.0,483.5 1120.7,483.3 1121.5,483.2 1122.3,483.2 1123.1,483.0 1123.8,483.0 1124.6,482.9 1125.4,483.0 1126.2,483.1 1126.9,483.1 1127.7,482.9 1128.5,482.7 1129.2,482.6 1130.0,482.4 1130.8,482.3 1131.6,482.1 1132.3,481.9 1133.1,481.9 1133.9,481.7 1134.7,481.8 1135.4,481.5 1136.2,481.3 1137.0,481.1 1137.8,481.2 1138.5,481.3 1139.3,481.2 1140.1,481.1 1140.9,481.2 1141.6,481.3 1142.4,481.5 1143.2,481.6 1144.0,481.7 1144.7,481.8 1145.5,481.9 1146.3,482.1 1147.0,482.2 1147.8,482.3 1148.6,482.4 1149.4,482.4 1150.1,482.5 1150.9,482.8 1151.7,482.9 1152.5,483.1 1153.2,483.0 1154.0,483.1 1154.8,483.0 1155.6,483.0 1156.3,483.1 1157.1,483.2 1157.9,483.2 1158.7,483.3 1159.4,483.4 1160.2,483.4 1161.0,483.4 1161.7,483.4 1162.5,483.5 1163.3,483.5 1164.1,483.5 1164.8,483.5 1165.6,483.4 1166.4,483.4 1167.2,483.4 1167.9,483.5 1168.7,483.5 1169.5,483.5 1170.3,483.6 1171.0,483.5 1171.8,483.5 1172.6,483.4 1173.4,483.4 1174.1,483.5 1174.9,483.5 1175.7,483.4 1176.5,483.3 1177.2,483.2 1178.0,483.2 1178.8,483.2 1179.5,483.2 1180.3,483.2 1181.1,483.1 1181.9,483.0 1182.6,482.9 1183.4,482.9 1184.2,482.8 1185.0,482.7 1185.7,482.6 1186.5,482.6 1187.3,482.6 1188.1,482.4 1188.8,482.1 1189.6,481.9 1190.4,481.9 1191.2,481.9 1191.9,481.7 1192.7,481.4 1193.5,481.1 1194.2,481.1 1195.0,481.0 1195.8,480.8 1196.6,480.6 1197.3,480.4 1198.1,480.3 1198.9,480.2 1199.7,480.1 1200.4,480.1 1201.2,480.1 1202.0,480.3 1202.8,480.4 1203.5,480.6 1204.3,480.7 1205.1,480.9 1205.9,481.0 1206.6,481.3 1207.4,481.3 1208.2,481.6 1209.0,481.6 1209.7,481.9 1210.5,482.1 1211.3,482.3 1212.0,482.4 1212.8,482.5 1213.6,482.7 1214.4,482.8 1215.1,482.9 1215.9,482.9 1216.7,483.0 1217.5,483.0 1218.2,483.1 1219.0,483.0 1219.8,483.1 1220.6,483.2 1221.3,483.4 1222.1,483.4 1222.9,483.4 1223.7,483.3 1224.4,483.4 1225.2,483.4 1226.0,483.4 1226.7,483.4 1227.5,483.5 1228.3,483.5 1229.1,483.5 1229.8,483.6 1230.6,483.7 1231.4,483.7 1232.2,483.6 1232.9,483.5 1233.7,483.5 1234.5,483.6 1235.3,483.5 1236.0,483.6 1236.8,483.6 1237.6,483.7 1238.4,483.7 1239.1,483.8 1239.9,483.8 1240.7,483.6 1241.5,483.6 1242.2,483.5 1243.0,483.7 1243.8,483.8 1244.5,483.9 1245.3,483.8 1246.1,483.8 1246.9,483.8 1247.6,483.8 1248.4,483.7 1249.2,483.7 1250.0,483.7 1250.7,483.8 1251.5,483.8 1252.3,483.9 1253.1,483.9 1253.8,483.9 1254.6,483.8 1255.4,483.9 1256.2,484.0 1256.9,483.9 1257.7,483.8 1258.5,483.7 1259.2,483.7 1260.0,483.8 1260.8,483.9 1261.6,483.9 1262.3,483.9 1263.1,483.9 1263.9,484.0 1264.7,483.9 1265.4,483.9 1266.2,483.9 1267.0,483.9 1267.8,483.9 1268.5,483.9 1269.3,484.0 1270.1,483.9 1270.9,483.9 1271.6,483.9 1272.4,483.8 1273.2,483.8 1274.0,483.7 1274.7,483.8 1275.5,483.9 1276.3,484.0 1277.0,484.0 1277.8,483.8 1278.6,483.9 1279.4,483.9 1280.1,483.9 1280.9,483.8 1281.7,483.8 1282.5,483.9 1283.2,483.8 1284.0,483.9 1284.8,483.8 1285.6,483.8 1286.3,483.8 1287.1,483.8 1287.9,483.9 1288.7,483.8 1289.4,483.7 1290.2,483.8" fill="none" stroke="#ff00ff" stroke-width="9.0" stroke-linejoin="round" stroke-linecap="butt"/>
<polyline points="129.5,345.5 130.3,345.4 131.0,345.4 131.8,345.4 132.6,345.6 133.4,345.6 134.1,345.5 134.9,345.4 135.7,345.4 136.5,345.6 137.2,345.6 138.0,345.5 138.8,345.5 139.6,345.5 140.3,345.5 141.1,345.5 141.9,345.5 142.7,345.6 143.4,345.6 144.2,345.6 145.0,345.4 145.7,345.5 146.5,345.6 147.3,345.7 148.1,345.7 148.8,345.6 149.6,345.6 150.4,345.6 151.2,345.5 151.9,345.5 152.7,345.5 153.5,345.5 154.3,345.5 155.0,345.5 155.8,345.5 156.6,345.5 157.4,345.4 158.1,345.5 158.9,345.5 159.7,345.5 160.5,345.5 161.2,345.6 162.0,345.7 162.8,345.7 163.5,345.6 164.3,345.6 165.1,345.5 165.9,345.5 166.6,345.5 167.4,345.5 168.2,345.4 169.0,345.3 169.7,345.4 170.5,345.4 171.3,345.6 172.1,345.5 172.8,345.4 173.6,345.3 174.4,345.3 175.2,345.3 175.9,345.4 176.7,345.4 177.5,345.5 178.2,345.7 179.0,345.7 179.8,345.7 180.6,345.5 181.3,345.5 182.1,345.4 182.9,345.4 183.7,345.5 184.4,345.6 185.2,345.5 186.0,345.6 186.8,345.6 187.5,345.7 188.3,345.6 189.1,345.6 189.9,345.5 190.6,345.5 191.4,345.5 192.2,345.5 193.0,345.5 193.7,345.5 194.5,345.5 195.3,345.5 196.0,345.4 196.8,345.5 197.6,345.5 198.4,345.5 199.1,345.3 199.9,345.5 200.7,345.4 201.5,345.5 202.2,345.5 203.0,345.5 203.8,345.4 204.6,345.3 205.3,345.4 206.1,345.4 206.9,345.4 207.7,345.5 208.4,345.5 209.2,345.5 210.0,345.5 210.7,345.4 211.5,345.4 212.3,345.4 213.1,345.4 213.8,345.5 214.6,345.6 215.4,345.6 216.2,345.5 216.9,345.5 217.7,345.6 218.5,345.6 219.3,345.5 220.0,345.5 220.8,345.6 221.6,345.6 222.4,345.5 223.1,345.5 223.9,345.5 224.7,345.6 225.5,345.5 226.2,345.5 227.0,345.5 227.8,345.5 228.5,345.5 229.3,345.4 230.1,345.4 230.9,345.4 231.6,345.5 232.4,345.5 233.2,345.4 234.0,345.4 234.7,345.5 235.5,345.5 236.3,345.4 237.1,345.4 237.8,345.5 238.6,345.4 239.4,345.4 240.2,345.4 240.9,345.5 241.7,345.6 242.5,345.6 243.2,345.5 244.0,345.5 244.8,345.5 245.6,345.6 246.3,345.6 247.1,345.5 247.9,345.6 248.7,345.5 249.4,345.5 250.2,345.4 251.0,345.4 251.8,345.3 252.5,345.4 253.3,345.6 254.1,345.6 254.9,345.6 255.6,345.6 256.4,345.6 257.2,345.5 258.0,345.5 258.7,345.5 259.5,345.5 260.3,345.5 261.0,345.4 261.8,345.5 262.6,345.5 263.4,345.6 264.1,345.5 264.9,345.6 265.7,345.5 266.5,345.6 267.2,345.6 268.0,345.5 268.8,345.5 269.6,345.6 270.3,345.5 271.1,345.5 271.9,345.3 272.7,345.5 273.4,345.5 274.2,345.5 275.0,345.4 275.7,345.3 276.5,345.4 277.3,345.5 278.1,345.5 278.8,345.5 279.6,345.6 280.4,345.5 281.2,345.4 281.9,345.2 282.7,345.3 283.5,345.4 284.3,345.5 285.0,345.5 285.8,345.6 286.6,345.6 287.4,345.5 288.1,345.4 288.9,345.3 289.7,345.5 290.5,345.5 291.2,345.5 292.0,345.4 292.8,345.3 293.5,345.4 294.3,345.4 295.1,345.4 295.9,345.2 296.6,345.1 297.4,345.0 298.2,345.1 299.0,345.1 299.7,345.1 300.5,345.1 301.3,345.1 302.1,345.1 302.8,345.0 303.6,345.0 304.4,345.1 305.2,345.0 305.9,344.9 306.7,344.9 307.5,345.0 308.2,344.9 309.0,344.8 309.8,344.7 310.6,344.6 311.3,344.4 312.1,344.4 312.9,344.3 313.7,344.4 314.4,344.2 315.2,344.1 316.0,343.9 316.8,343.9 317.5,343.8 318.3,343.6 319.1,343.2 319.9,343.0 320.6,342.8 321.4,342.6 322.2,342.3 322.9,342.0 323.7,341.5 324.5,341.0 325.3,340.6 326.0,340.0 326.8,339.3 327.6,338.5 328.4,337.4 329.1,336.3 329.9,334.7 330.7,332.9 331.5,330.7 332.2,328.2 333.0,325.5 333.8,322.4 334.6,319.2 335.3,316.1 336.1,312.9 336.9,310.4 337.7,308.8 338.4,308.5 339.2,309.4 340.0,311.6 340.7,314.4 341.5,317.6 342.3,320.9 343.1,324.1 343.8,327.1 344.6,329.6 345.4,331.8 346.2,333.8 346.9,335.5 347.7,336.8 348.5,337.9 349.3,338.9 350.0,339.6 350.8,340.3 351.6,340.9 352.4,341.5 353.1,342.0 353.9,342.3 354.7,342.5 355.4,342.8 356.2,343.0 357.0,343.2 357.8,343.4 358.5,343.6 359.3,343.8 360.1,344.0 360.9,344.1 361.6,344.2 362.4,344.1 363.2,344.2 364.0,344.2 364.7,344.4 365.5,344.4 366.3,344.6 367.1,344.7 367.8,344.8 368.6,344.7 369.4,344.8 370.2,344.8 370.9,344.8 371.7,344.9 372.5,345.0 373.2,344.9 374.0,344.8 374.8,344.8 375.6,345.0 376.3,345.0 377.1,345.0 377.9,345.1 378.7,345.0 379.4,345.1 380.2,345.1 381.0,345.2 381.8,345.2 382.5,345.2 383.3,345.3 384.1,345.2 384.9,345.1 385.6,345.0 386.4,345.2 387.2,345.2 387.9,345.2 388.7,345.2 389.5,345.2 390.3,345.2 391.0,345.1 391.8,345.2 392.6,345.1 393.4,345.1 394.1,344.9 394.9,344.9 395.7,344.9 396.5,345.0 397.2,345.0 398.0,344.9 398.8,344.8 399.6,344.8 400.3,344.8 401.1,344.8 401.9,344.7 402.7,344.6 403.4,344.5 404.2,344.7 405.0,344.5 405.7,344.3 406.5,344.2 407.3,344.2 408.1,344.2 408.8,344.0 409.6,343.9 410.4,343.8 411.2,343.7 411.9,343.6 412.7,343.5 413.5,343.5 414.3,343.2 415.0,343.0 415.8,342.8 416.6,342.7 417.4,342.4 418.1,342.2 418.9,342.0 419.7,341.8 420.4,341.5 421.2,341.0 422.0,340.7 422.8,340.2 423.5,339.9 424.3,339.1 425.1,338.5 425.9,337.8 426.6,337.1 427.4,336.2 428.2,335.2 429.0,333.9 429.7,332.5 430.5,330.9 431.3,329.0 432.1,326.8 432.8,324.1 433.6,320.8 434.4,316.9 435.2,312.5 435.9,307.5 436.7,301.9 437.5,295.7 438.2,288.8 439.0,281.6 439.8,274.6 440.6,268.4 441.3,263.6 442.1,261.1 442.9,261.1 443.7,263.6 444.4,268.4 445.2,274.7 446.0,281.8 446.8,288.8 447.5,295.5 448.3,301.8 449.1,307.4 449.9,312.4 450.6,316.8 451.4,320.7 452.2,323.9 452.9,326.7 453.7,328.8 454.5,330.7 455.3,332.3 456.0,333.9 456.8,334.9 457.6,335.9 458.4,336.7 459.1,337.6 459.9,338.3 460.7,338.8 461.5,339.3 462.2,339.7 463.0,339.9 463.8,340.2 464.6,340.5 465.3,340.7 466.1,340.7 466.9,340.7 467.7,340.8 468.4,341.0 469.2,341.1 470.0,341.2 470.7,341.1 471.5,341.1 472.3,341.2 473.1,341.6 473.8,341.9 474.6,342.1 475.4,342.2 476.2,342.5 476.9,342.7 477.7,343.1 478.5,343.4 479.3,343.7 480.0,343.8 480.8,343.9 481.6,344.0 482.4,344.1 483.1,344.3 483.9,344.3 484.7,344.5 485.4,344.4 486.2,344.6 487.0,344.5 487.8,344.7 488.5,344.7 489.3,344.9 490.1,345.0 490.9,345.0 491.6,345.0 492.4,344.9 493.2,345.0 494.0,345.1 494.7,345.2 495.5,345.2 496.3,345.2 497.1,345.2 497.8,345.3 498.6,345.2 499.4,345.3 500.2,345.3 500.9,345.3 501.7,345.3 502.5,345.3 503.2,345.3 504.0,345.4 504.8,345.4 505.6,345.4 506.3,345.4 507.1,345.3 507.9,345.4 508.7,345.3 509.4,345.3 510.2,345.2 511.0,345.4 511.8,345.5 512.5,345.4 513.3,345.3 514.1,345.3 514.9,345.3 515.6,345.3 516.4,345.2 517.2,345.2 517.9,345.2 518.7,345.3 519.5,345.3 520.3,345.4 521.0,345.5 521.8,345.6 522.6,345.5 523.4,345.5 524.1,345.4 524.9,345.4 525.7,345.4 526.5,345.5 527.2,345.5 528.0,345.5 528.8,345.4 529.6,345.5 530.3,345.5 531.1,345.5 531.9,345.4 532.6,345.4 533.4,345.5 534.2,345.5 535.0,345.5 535.7,345.5 536.5,345.5 537.3,345.5 538.1,345.5 538.8,345.6 539.6,345.5 540.4,345.4 541.2,345.4 541.9,345.4 542.7,345.6 543.5,345.5 544.3,345.5 545.0,345.4 545.8,345.5 546.6,345.5 547.4,345.4 548.1,345.4 548.9,345.3 549.7,345.3 550.4,345.3 551.2,345.5 552.0,345.4 552.8,345.4 553.5,345.3 554.3,345.3 555.1,345.3 555.9,345.3 556.6,345.4 557.4,345.3 558.2,345.4 559.0,345.3 559.7,345.3 560.5,345.1 561.3,345.0 562.1,345.1 562.8,345.2 563.6,345.3 564.4,345.2 565.1,345.2 565.9,345.2 566.7,345.2 567.5,345.1 568.2,344.9 569.0,344.9 569.8,344.9 570.6,344.8 571.3,344.8 572.1,344.8 572.9,344.8 573.7,344.8 574.4,344.8 575.2,344.5 576.0,344.4 576.8,344.1 577.5,344.2 578.3,344.0 579.1,343.8 579.9,343.6 580.6,343.5 581.4,343.2 582.2,342.9 582.9,342.4 583.7,342.1 584.5,341.5 585.3,341.0 586.0,340.3 586.8,339.6 587.6,338.9 588.4,338.1 589.1,337.5 589.9,336.6 590.7,336.0 591.5,335.5 592.2,335.4 593.0,335.5 593.8,335.9 594.6,336.3 595.3,336.9 596.1,337.6 596.9,338.5 597.6,339.4 598.4,340.1 599.2,340.8 600.0,341.3 600.7,341.9 601.5,342.2 602.3,342.7 603.1,343.0 603.8,343.2 604.6,343.4 605.4,343.6 606.2,343.8 606.9,343.9 607.7,344.0 608.5,344.2 609.3,344.4 610.0,344.5 610.8,344.7 611.6,344.7 612.4,344.7 613.1,344.7 613.9,344.8 614.7,344.8 615.4,344.9 616.2,345.0 617.0,345.1 617.8,345.1 618.5,345.2 619.3,345.0 620.1,345.1 620.9,345.1 621.6,345.2 622.4,345.2 623.2,345.2 624.0,345.2 624.7,345.2 625.5,345.1 626.3,345.2 627.1,345.2 627.8,345.2 628.6,345.2 629.4,345.2 630.1,345.3 630.9,345.5 631.7,345.4 632.5,345.4 633.2,345.3 634.0,345.4 634.8,345.4 635.6,345.3 636.3,345.5 637.1,345.5 637.9,345.6 638.7,345.5 639.4,345.5 640.2,345.5 641.0,345.4 641.8,345.3 642.5,345.2 643.3,345.3 644.1,345.3 644.9,345.3 645.6,345.3 646.4,345.4 647.2,345.5 647.9,345.4 648.7,345.4 649.5,345.4 650.3,345.5 651.0,345.4 651.8,345.4 652.6,345.3 653.4,345.3 654.1,345.3 654.9,345.3 655.7,345.4 656.5,345.4 657.2,345.3 658.0,345.2 658.8,345.2 659.6,345.3 660.3,345.3 661.1,345.2 661.9,345.1 662.6,345.1 663.4,345.0 664.2,345.0 665.0,344.8 665.7,344.6 666.5,344.5 667.3,344.4 668.1,344.4 668.8,344.3 669.6,344.3 670.4,344.4 671.2,344.3 671.9,344.3 672.7,344.3 673.5,344.4 674.3,344.5 675.0,344.5 675.8,344.7 676.6,344.8 677.4,344.8 678.1,344.9 678.9,344.9 679.7,345.0 680.4,345.1 681.2,345.2 682.0,345.2 682.8,345.3 683.5,345.3 684.3,345.2 685.1,345.3 685.9,345.3 686.6,345.4 687.4,345.4 688.2,345.4 689.0,345.3 689.7,345.2 690.5,345.1 691.3,345.2 692.1,345.2 692.8,345.3 693.6,345.3 694.4,345.4 695.1,345.4 695.9,345.4 696.7,345.4 697.5,345.4 698.2,345.3 699.0,345.3 699.8,345.3 700.6,345.4 701.3,345.4 702.1,345.4 702.9,345.3 703.7,345.3 704.4,345.4 705.2,345.5 706.0,345.5 706.8,345.4 707.5,345.4 708.3,345.5 709.1,345.6 709.8,345.6 710.6,345.5 711.4,345.4 712.2,345.4 712.9,345.3 713.7,345.4 714.5,345.5 715.3,345.5 716.0,345.5 716.8,345.4 717.6,345.6 718.4,345.6 719.1,345.6 719.9,345.6 720.7,345.5 721.5,345.4 722.2,345.4 723.0,345.4 723.8,345.5 724.6,345.6 725.3,345.6 726.1,345.6 726.9,345.5 727.6,345.5 728.4,345.5 729.2,345.5 730.0,345.6 730.7,345.6 731.5,345.5 732.3,345.5 733.1,345.4 733.8,345.5 734.6,345.4 735.4,345.4 736.2,345.3 736.9,345.4 737.7,345.4 738.5,345.5 739.3,345.6 740.0,345.5 740.8,345.5 741.6,345.4 742.3,345.4 743.1,345.4 743.9,345.4 744.7,345.5 745.4,345.4 746.2,345.4 747.0,345.3 747.8,345.3 748.5,345.2 749.3,345.3 750.1,345.3 750.9,345.3 751.6,345.3 752.4,345.4 753.2,345.4 754.0,345.5 754.7,345.3 755.5,345.3 756.3,345.3 757.1,345.4 757.8,345.5 758.6,345.4 759.4,345.3 760.1,345.3 760.9,345.2 761.7,345.3 762.5,345.3 763.2,345.4 764.0,345.2 764.8,345.2 765.6,345.1 766.3,345.3 767.1,345.2 767.9,345.1 768.7,345.1 769.4,345.1 770.2,345.2 771.0,345.1 771.8,345.0 772.5,345.0 773.3,344.9 774.1,344.9 774.8,344.8 775.6,344.8 776.4,344.9 777.2,344.7 777.9,344.6 778.7,344.4 779.5,344.5 780.3,344.4 781.0,344.2 781.8,344.1 782.6,344.0 783.4,343.7 784.1,343.5 784.9,343.2 785.7,343.1 786.5,342.8 787.2,342.4 788.0,342.0 788.8,341.6 789.6,341.1 790.3,340.6 791.1,340.1 791.9,339.4 792.6,338.8 793.4,338.0 794.2,337.6 795.0,337.2 795.7,337.0 796.5,336.9 797.3,336.9 798.1,337.0 798.8,337.4 799.6,337.9 800.4,338.5 801.2,339.1 801.9,339.6 802.7,340.1 803.5,340.6 804.3,341.2 805.0,341.8 805.8,342.2 806.6,342.5 807.3,342.9 808.1,343.1 808.9,343.3 809.7,343.3 810.4,343.5 811.2,343.7 812.0,343.9 812.8,343.9 813.5,344.1 814.3,344.2 815.1,344.5 815.9,344.6 816.6,344.5 817.4,344.5 818.2,344.6 819.0,344.6 819.7,344.6 820.5,344.5 821.3,344.5 822.1,344.5 822.8,344.6 823.6,344.7 824.4,344.8 825.1,344.8 825.9,344.8 826.7,344.8 827.5,344.9 828.2,344.7 829.0,344.6 829.8,344.6 830.6,344.7 831.3,344.6 832.1,344.7 832.9,344.6 833.7,344.7 834.4,344.7 835.2,344.7 836.0,344.7 836.8,344.5 837.5,344.3 838.3,344.3 839.1,344.3 839.8,344.3 840.6,344.3 841.4,344.2 842.2,344.1 842.9,343.8 843.7,343.6 844.5,343.7 845.3,343.6 846.0,343.6 846.8,343.4 847.6,343.1 848.4,342.9 849.1,342.6 849.9,342.3 850.7,342.0 851.5,341.6 852.2,341.3 853.0,340.8 853.8,340.2 854.6,339.6 855.3,339.0 856.1,338.4 856.9,337.4 857.6,336.4 858.4,335.2 859.2,334.2 860.0,333.0 860.7,331.7 861.5,330.3 862.3,328.9 863.1,327.5 863.8,326.3 864.6,325.5 865.4,325.1 866.2,324.9 866.9,325.2 867.7,325.8 868.5,326.9 869.3,328.2 870.0,329.6 870.8,330.9 871.6,332.3 872.3,333.6 873.1,334.8 873.9,335.8 874.7,336.9 875.4,337.8 876.2,338.7 877.0,339.5 877.8,340.2 878.5,340.6 879.3,341.1 880.1,341.5 880.9,342.0 881.6,342.4 882.4,342.7 883.2,343.0 884.0,343.2 884.7,343.4 885.5,343.5 886.3,343.5 887.1,343.7 887.8,343.9 888.6,344.0 889.4,344.1 890.1,344.0 890.9,344.3 891.7,344.4 892.5,344.5 893.2,344.4 894.0,344.5 894.8,344.7 895.6,344.8 896.3,344.8 897.1,344.7 897.9,344.7 898.7,344.8 899.4,344.9 900.2,345.0 901.0,345.0 901.8,344.9 902.5,344.9 903.3,345.0 904.1,345.0 904.8,345.1 905.6,344.9 906.4,344.9 907.2,344.9 907.9,345.1 908.7,345.1 909.5,345.2 910.3,345.0 911.0,345.0 911.8,345.0 912.6,345.1 913.4,345.1 914.1,345.2 914.9,345.2 915.7,345.1 916.5,345.1 917.2,345.1 918.0,345.1 918.8,345.2 919.5,345.2 920.3,345.3 921.1,345.1 921.9,345.0 922.6,345.0 923.4,345.1 924.2,345.2 925.0,345.2 925.7,345.2 926.5,345.2 927.3,345.2 928.1,345.1 928.8,345.2 929.6,345.3 930.4,345.3 931.2,345.3 931.9,345.1 932.7,345.0 933.5,344.9 934.3,344.9 935.0,344.9 935.8,344.9 936.6,344.9 937.3,344.8 938.1,344.6 938.9,344.7 939.7,344.9 940.4,345.0 941.2,344.9 942.0,344.7 942.8,344.6 943.5,344.5 944.3,344.4 945.1,344.5 945.9,344.5 946.6,344.5 947.4,344.4 948.2,344.3 949.0,344.1 949.7,344.0 950.5,343.8 951.3,343.8 952.0,343.7 952.8,343.6 953.6,343.4 954.4,343.3 955.1,343.2 955.9,343.2 956.7,342.8 957.5,342.5 958.2,342.2 959.0,342.0 959.8,341.8 960.6,341.3 961.3,341.1 962.1,340.5 962.9,340.1 963.7,339.5 964.4,338.8 965.2,338.1 966.0,337.1 966.8,336.1 967.5,334.9 968.3,333.7 969.1,332.4 969.8,331.1 970.6,329.5 971.4,327.9 972.2,326.3 972.9,324.8 973.7,323.3 974.5,322.1 975.3,321.3 976.0,320.7 976.8,320.4 977.6,320.7 978.4,321.4 979.1,322.7 979.9,324.0 980.7,325.6 981.5,327.1 982.2,328.8 983.0,330.3 983.8,331.8 984.5,333.2 985.3,334.4 986.1,335.5 986.9,336.5 987.6,337.4 988.4,338.4 989.2,339.1 990.0,339.6 990.7,340.1 991.5,340.7 992.3,341.3 993.1,341.6 993.8,342.0 994.6,342.3 995.4,342.5 996.2,342.8 996.9,342.9 997.7,343.1 998.5,343.3 999.3,343.4 1000.0,343.5 1000.8,343.6 1001.6,343.7 1002.3,343.9 1003.1,344.0 1003.9,344.2 1004.7,344.3 1005.4,344.5 1006.2,344.4 1007.0,344.4 1007.8,344.5 1008.5,344.5 1009.3,344.4 1010.1,344.4 1010.9,344.5 1011.6,344.7 1012.4,344.8 1013.2,344.8 1014.0,344.8 1014.7,344.9 1015.5,344.8 1016.3,344.8 1017.0,344.7 1017.8,344.8 1018.6,344.9 1019.4,345.0 1020.1,345.1 1020.9,345.1 1021.7,345.1 1022.5,345.1 1023.2,345.1 1024.0,345.2 1024.8,345.2 1025.6,345.3 1026.3,345.3 1027.1,345.5 1027.9,345.5 1028.7,345.4 1029.4,345.2 1030.2,345.1 1031.0,345.2 1031.8,345.3 1032.5,345.3 1033.3,345.3 1034.1,345.3 1034.8,345.3 1035.6,345.2 1036.4,345.2 1037.2,345.2 1037.9,345.1 1038.7,345.1 1039.5,345.2 1040.3,345.4 1041.0,345.4 1041.8,345.3 1042.6,345.3 1043.4,345.4 1044.1,345.4 1044.9,345.3 1045.7,345.4 1046.5,345.3 1047.2,345.4 1048.0,345.5 1048.8,345.5 1049.5,345.5 1050.3,345.5 1051.1,345.5 1051.9,345.4 1052.6,345.4 1053.4,345.4 1054.2,345.3 1055.0,345.3 1055.7,345.5 1056.5,345.5 1057.3,345.3 1058.1,345.3 1058.8,345.4 1059.6,345.5 1060.4,345.5 1061.2,345.4 1061.9,345.5 1062.7,345.4 1063.5,345.4 1064.3,345.3 1065.0,345.3 1065.8,345.3 1066.6,345.5 1067.3,345.6 1068.1,345.6 1068.9,345.5 1069.7,345.4 1070.4,345.4 1071.2,345.5 1072.0,345.6 1072.8,345.5 1073.5,345.5 1074.3,345.5 1075.1,345.5 1075.9,345.5 1076.6,345.6 1077.4,345.6 1078.2,345.4 1079.0,345.4 1079.7,345.5 1080.5,345.5 1081.3,345.4 1082.0,345.3 1082.8,345.4 1083.6,345.5 1084.4,345.6 1085.1,345.6 1085.9,345.6 1086.7,345.5 1087.5,345.3 1088.2,345.3 1089.0,345.4 1089.8,345.5 1090.6,345.4 1091.3,345.4 1092.1,345.5 1092.9,345.5 1093.7,345.5 1094.4,345.4 1095.2,345.5 1096.0,345.5 1096.7,345.5 1097.5,345.5 1098.3,345.4 1099.1,345.4 1099.8,345.3 1100.6,345.4 1101.4,345.4 1102.2,345.5 1102.9,345.5 1103.7,345.5 1104.5,345.5 1105.3,345.3 1106.0,345.3 1106.8,345.3 1107.6,345.4 1108.4,345.4 1109.1,345.5 1109.9,345.5 1110.7,345.4 1111.5,345.3 1112.2,345.2 1113.0,345.2 1113.8,345.3 1114.5,345.4 1115.3,345.4 1116.1,345.3 1116.9,345.4 1117.6,345.4 1118.4,345.3 1119.2,345.2 1120.0,345.1 1120.7,345.2 1121.5,345.2 1122.3,345.3 1123.1,345.1 1123.8,345.1 1124.6,345.0 1125.4,344.8 1126.2,344.8 1126.9,344.7 1127.7,344.8 1128.5,344.8 1129.2,344.7 1130.0,344.6 1130.8,344.4 1131.6,344.3 1132.3,344.3 1133.1,344.1 1133.9,344.0 1134.7,343.7 1135.4,343.5 1136.2,343.3 1137.0,343.0 1137.8,343.0 1138.5,342.8 1139.3,342.7 1140.1,342.6 1140.9,342.6 1141.6,342.4 1142.4,342.4 1143.2,342.3 1144.0,342.5 1144.7,342.5 1145.5,342.7 1146.3,342.7 1147.0,343.0 1147.8,343.2 1148.6,343.4 1149.4,343.6 1150.1,343.7 1150.9,343.9 1151.7,344.0 1152.5,344.2 1153.2,344.2 1154.0,344.4 1154.8,344.5 1155.6,344.6 1156.3,344.6 1157.1,344.7 1157.9,344.8 1158.7,344.9 1159.4,344.9 1160.2,345.0 1161.0,345.0 1161.7,344.9 1162.5,344.8 1163.3,344.8 1164.1,344.9 1164.8,344.9 1165.6,344.8 1166.4,344.9 1167.2,345.0 1167.9,345.1 1168.7,345.1 1169.5,345.1 1170.3,345.1 1171.0,345.2 1171.8,345.3 1172.6,345.3 1173.4,345.2 1174.1,345.1 1174.9,345.0 1175.7,345.0 1176.5,345.1 1177.2,345.0 1178.0,345.1 1178.8,344.9 1179.5,345.0 1180.3,345.0 1181.1,345.0 1181.9,344.9 1182.6,344.8 1183.4,344.8 1184.2,344.7 1185.0,344.7 1185.7,344.6 1186.5,344.6 1187.3,344.4 1188.1,344.4 1188.8,344.3 1189.6,344.2 1190.4,344.1 1191.2,344.0 1191.9,343.9 1192.7,343.5 1193.5,343.3 1194.2,343.1 1195.0,342.9 1195.8,342.6 1196.6,342.3 1197.3,342.2 1198.1,342.0 1198.9,341.8 1199.7,341.6 1200.4,341.4 1201.2,341.3 1202.0,341.3 1202.8,341.3 1203.5,341.4 1204.3,341.5 1205.1,341.6 1205.9,341.9 1206.6,342.2 1207.4,342.4 1208.2,342.7 1209.0,342.9 1209.7,343.2 1210.5,343.4 1211.3,343.6 1212.0,343.8 1212.8,343.9 1213.6,343.9 1214.4,344.1 1215.1,344.2 1215.9,344.3 1216.7,344.3 1217.5,344.4 1218.2,344.6 1219.0,344.8 1219.8,344.9 1220.6,344.9 1221.3,345.0 1222.1,345.0 1222.9,345.1 1223.7,345.1 1224.4,345.0 1225.2,345.0 1226.0,345.0 1226.7,345.1 1227.5,345.1 1228.3,345.2 1229.1,345.1 1229.8,345.2 1230.6,345.3 1231.4,345.2 1232.2,345.2 1232.9,345.2 1233.7,345.2 1234.5,345.4 1235.3,345.4 1236.0,345.5 1236.8,345.3 1237.6,345.4 1238.4,345.3 1239.1,345.4 1239.9,345.4 1240.7,345.4 1241.5,345.4 1242.2,345.4 1243.0,345.4 1243.8,345.5 1244.5,345.4 1245.3,345.4 1246.1,345.4 1246.9,345.5 1247.6,345.5 1248.4,345.5 1249.2,345.4 1250.0,345.4 1250.7,345.4 1251.5,345.5 1252.3,345.5 1253.1,345.5 1253.8,345.5 1254.6,345.4 1255.4,345.3 1256.2,345.3 1256.9,345.3 1257.7,345.4 1258.5,345.5 1259.2,345.5 1260.0,345.5 1260.8,345.5 1261.6,345.4 1262.3,345.3 1263.1,345.3 1263.9,345.3 1264.7,345.3 1265.4,345.4 1266.2,345.5 1267.0,345.5 1267.8,345.4 1268.5,345.4 1269.3,345.4 1270.1,345.5 1270.9,345.4 1271.6,345.3 1272.4,345.4 1273.2,345.4 1274.0,345.5 1274.7,345.6 1275.5,345.5 1276.3,345.4 1277.0,345.5 1277.8,345.5 1278.6,345.5 1279.4,345.4 1280.1,345.5 1280.9,345.5 1281.7,345.5 1282.5,345.5 1283.2,345.5 1284.0,345.5 1284.8,345.5 1285.6,345.6 1286.3,345.5 1287.1,345.5 1287.9,345.6 1288.7,345.6 1289.4,345.5 1290.2,345.4" fill="none" stroke="#008000" stroke-width="9.0" stroke-linejoin="round" stroke-linecap="butt"/>
<polyline points="129.5,207.9 130.3,208.0 131.0,207.9 131.8,207.9 132.6,207.7 133.4,207.7 134.1,207.7 134.9,207.8 135.7,207.8 136.5,207.9 137.2,207.8 138.0,207.9 138.8,207.8 139.6,207.8 140.3,207.8 141.1,207.8 141.9,207.9 142.7,207.8 143.4,207.8 144.2,207.8 145.0,207.7 145.7,207.8 146.5,207.9 147.3,208.0 148.1,207.9 148.8,207.9 149.6,207.8 150.4,207.9 151.2,207.8 151.9,207.7 152.7,207.7 153.5,207.7 154.3,207.8 155.0,207.9 155.8,207.9 156.6,207.8 157.4,207.8 158.1,207.8 158.9,207.7 159.7,207.8 160.5,207.8 161.2,207.8 162.0,207.9 162.8,207.9 163.5,208.0 164.3,207.8 165.1,207.9 165.9,207.6 166.6,207.5 167.4,207.4 168.2,207.6 169.0,207.8 169.7,207.8 170.5,207.8 171.3,207.7 172.1,207.8 172.8,207.8 173.6,207.8 174.4,207.7 175.2,207.7 175.9,207.8 176.7,207.8 177.5,207.8 178.2,207.7 179.0,207.7 179.8,207.8 180.6,207.8 181.3,207.8 182.1,207.8 182.9,207.9 183.7,207.9 184.4,207.8 185.2,207.9 186.0,208.0 186.8,207.9 187.5,207.8 188.3,207.7 189.1,207.7 189.9,207.7 190.6,207.7 191.4,207.7 192.2,207.6 193.0,207.7 193.7,207.7 194.5,207.8 195.3,207.9 196.0,207.9 196.8,207.8 197.6,207.8 198.4,207.8 199.1,208.0 199.9,207.9 200.7,207.8 201.5,207.8 202.2,207.7 203.0,207.7 203.8,207.6 204.6,207.7 205.3,207.8 206.1,207.9 206.9,207.8 207.7,207.8 208.4,207.9 209.2,208.0 210.0,207.9 210.7,208.0 211.5,208.0 212.3,207.9 213.1,207.8 213.8,207.8 214.6,207.8 215.4,207.7 216.2,207.6 216.9,207.7 217.7,207.8 218.5,207.9 219.3,207.9 220.0,207.8 220.8,207.6 221.6,207.5 222.4,207.6 223.1,207.7 223.9,207.8 224.7,207.7 225.5,207.7 226.2,207.8 227.0,207.9 227.8,207.8 228.5,207.9 229.3,207.9 230.1,207.9 230.9,207.8 231.6,207.6 232.4,207.6 233.2,207.6 234.0,207.8 234.7,207.8 235.5,207.8 236.3,207.9 237.1,207.9 237.8,207.8 238.6,207.7 239.4,207.7 240.2,207.8 240.9,207.9 241.7,207.9 242.5,207.8 243.2,207.8 244.0,207.8 244.8,207.9 245.6,207.8 246.3,207.8 247.1,207.8 247.9,207.7 248.7,207.7 249.4,207.7 250.2,207.8 251.0,207.7 251.8,207.6 252.5,207.7 253.3,207.7 254.1,207.7 254.9,207.8 255.6,207.8 256.4,207.9 257.2,207.8 258.0,207.7 258.7,207.7 259.5,207.6 260.3,207.7 261.0,207.7 261.8,207.6 262.6,207.7 263.4,207.8 264.1,207.9 264.9,207.8 265.7,207.9 266.5,207.7 267.2,207.6 268.0,207.5 268.8,207.6 269.6,207.7 270.3,207.8 271.1,207.8 271.9,207.8 272.7,207.8 273.4,207.7 274.2,207.7 275.0,207.6 275.7,207.7 276.5,207.8 277.3,207.7 278.1,207.8 278.8,207.7 279.6,207.8 280.4,207.6 281.2,207.8 281.9,207.7 282.7,207.7 283.5,207.8 284.3,207.7 285.0,207.8 285.8,207.6 286.6,207.6 287.4,207.5 288.1,207.6 288.9,207.6 289.7,207.6 290.5,207.6 291.2,207.7 292.0,207.6 292.8,207.6 293.5,207.6 294.3,207.6 295.1,207.5 295.9,207.5 296.6,207.6 297.4,207.6 298.2,207.5 299.0,207.5 299.7,207.5 300.5,207.5 301.3,207.4 302.1,207.3 302.8,207.2 303.6,207.3 304.4,207.2 305.2,207.2 305.9,207.0 306.7,207.1 307.5,207.0 308.2,207.0 309.0,206.9 309.8,206.9 310.6,206.7 311.3,206.7 312.1,206.5 312.9,206.5 313.7,206.4 314.4,206.3 315.2,206.2 316.0,206.0 316.8,205.8 317.5,205.5 318.3,205.4 319.1,205.1 319.9,204.8 320.6,204.4 321.4,204.1 322.2,203.8 322.9,203.2 323.7,202.6 324.5,201.9 325.3,201.2 326.0,200.3 326.8,199.2 327.6,197.8 328.4,196.2 329.1,194.5 329.9,192.8 330.7,191.0 331.5,189.1 332.2,187.2 333.0,185.5 333.8,184.1 334.6,183.4 335.3,183.3 336.1,184.1 336.9,185.3 337.7,187.0 338.4,188.9 339.2,191.0 340.0,193.0 340.7,194.8 341.5,196.3 342.3,197.8 343.1,199.1 343.8,200.2 344.6,201.1 345.4,201.9 346.2,202.6 346.9,203.3 347.7,203.8 348.5,204.3 349.3,204.5 350.0,204.9 350.8,205.3 351.6,205.6 352.4,205.8 353.1,206.0 353.9,206.1 354.7,206.1 355.4,206.2 356.2,206.2 357.0,206.4 357.8,206.5 358.5,206.6 359.3,206.8 360.1,206.8 360.9,206.9 361.6,207.0 362.4,207.1 363.2,207.1 364.0,207.1 364.7,207.1 365.5,207.1 366.3,207.0 367.1,207.1 367.8,207.1 368.6,207.2 369.4,207.3 370.2,207.3 370.9,207.3 371.7,207.3 372.5,207.4 373.2,207.4 374.0,207.3 374.8,207.4 375.6,207.4 376.3,207.4 377.1,207.4 377.9,207.3 378.7,207.4 379.4,207.4 380.2,207.5 381.0,207.5 381.8,207.4 382.5,207.4 383.3,207.3 384.1,207.4 384.9,207.3 385.6,207.4 386.4,207.4 387.2,207.5 387.9,207.4 388.7,207.3 389.5,207.2 390.3,207.1 391.0,207.2 391.8,207.3 392.6,207.3 393.4,207.4 394.1,207.3 394.9,207.3 395.7,207.3 396.5,207.2 397.2,207.0 398.0,206.9 398.8,206.9 399.6,207.0 400.3,207.0 401.1,206.9 401.9,206.8 402.7,206.8 403.4,206.6 404.2,206.5 405.0,206.4 405.7,206.5 406.5,206.5 407.3,206.5 408.1,206.3 408.8,206.2 409.6,206.1 410.4,206.1 411.2,205.9 411.9,205.7 412.7,205.5 413.5,205.3 414.3,205.3 415.0,205.1 415.8,204.9 416.6,204.7 417.4,204.5 418.1,204.2 418.9,203.7 419.7,203.3 420.4,202.9 421.2,202.5 422.0,202.1 422.8,201.5 423.5,200.8 424.3,200.0 425.1,199.3 425.9,198.5 426.6,197.5 427.4,196.2 428.2,194.7 429.0,193.0 429.7,191.1 430.5,188.9 431.3,186.3 432.1,183.2 432.8,179.9 433.6,176.2 434.4,172.2 435.2,168.0 435.9,163.4 436.7,158.9 437.5,154.7 438.2,151.4 439.0,149.2 439.8,148.4 440.6,149.1 441.3,151.3 442.1,154.8 442.9,158.8 443.7,163.3 444.4,167.8 445.2,172.1 446.0,176.2 446.8,179.8 447.5,183.3 448.3,186.2 449.1,188.8 449.9,191.0 450.6,193.0 451.4,194.8 452.2,196.1 452.9,197.2 453.7,198.2 454.5,199.1 455.3,200.0 456.0,200.7 456.8,201.3 457.6,201.7 458.4,202.2 459.1,202.6 459.9,202.9 460.7,203.2 461.5,203.4 462.2,203.6 463.0,203.7 463.8,203.7 464.6,203.8 465.3,203.9 466.1,204.0 466.9,204.0 467.7,203.9 468.4,204.1 469.2,204.0 470.0,204.1 470.7,204.1 471.5,204.4 472.3,204.6 473.1,205.0 473.8,205.3 474.6,205.4 475.4,205.4 476.2,205.5 476.9,205.7 477.7,206.1 478.5,206.3 479.3,206.4 480.0,206.5 480.8,206.5 481.6,206.6 482.4,206.6 483.1,206.8 483.9,206.9 484.7,206.9 485.4,206.8 486.2,206.9 487.0,206.9 487.8,207.0 488.5,207.0 489.3,207.2 490.1,207.3 490.9,207.3 491.6,207.3 492.4,207.2 493.2,207.2 494.0,207.2 494.7,207.2 495.5,207.3 496.3,207.3 497.1,207.3 497.8,207.3 498.6,207.3 499.4,207.3 500.2,207.3 500.9,207.4 501.7,207.3 502.5,207.4 503.2,207.4 504.0,207.4 504.8,207.4 505.6,207.5 506.3,207.6 507.1,207.7 507.9,207.6 508.7,207.6 509.4,207.5 510.2,207.5 511.0,207.6 511.8,207.5 512.5,207.6 513.3,207.3 514.1,207.3 514.9,207.3 515.6,207.4 516.4,207.5 517.2,207.5 517.9,207.5 518.7,207.5 519.5,207.5 520.3,207.5 521.0,207.4 521.8,207.4 522.6,207.4 523.4,207.5 524.1,207.5 524.9,207.5 525.7,207.5 526.5,207.5 527.2,207.4 528.0,207.4 528.8,207.5 529.6,207.5 530.3,207.4 531.1,207.4 531.9,207.4 532.6,207.4 533.4,207.5 534.2,207.6 535.0,207.6 535.7,207.6 536.5,207.5 537.3,207.4 538.1,207.2 538.8,207.3 539.6,207.3 540.4,207.4 541.2,207.4 541.9,207.4 542.7,207.5 543.5,207.5 544.3,207.5 545.0,207.4 545.8,207.5 546.6,207.5 547.4,207.5 548.1,207.3 548.9,207.3 549.7,207.3 550.4,207.3 551.2,207.2 552.0,207.3 552.8,207.3 553.5,207.3 554.3,207.3 555.1,207.4 555.9,207.3 556.6,207.3 557.4,207.2 558.2,207.3 559.0,207.3 559.7,207.2 560.5,207.1 561.3,207.1 562.1,207.2 562.8,207.2 563.6,207.2 564.4,207.1 565.1,207.1 565.9,207.0 566.7,206.9 567.5,206.9 568.2,206.9 569.0,206.9 569.8,206.9 570.6,206.8 571.3,206.8 572.1,206.6 572.9,206.6 573.7,206.5 574.4,206.4 575.2,206.3 576.0,206.1 576.8,206.2 577.5,206.0 578.3,205.9 579.1,205.7 579.9,205.4 580.6,205.0 581.4,204.7 582.2,204.4 582.9,204.1 583.7,203.5 584.5,203.0 585.3,202.6 586.0,202.1 586.8,201.6 587.6,201.1 588.4,200.8 589.1,200.5 589.9,200.3 590.7,200.2 591.5,200.2 592.2,200.6 593.0,201.0 593.8,201.6 594.6,201.9 595.3,202.4 596.1,202.9 596.9,203.4 597.6,203.8 598.4,204.2 599.2,204.6 600.0,205.0 600.7,205.2 601.5,205.5 602.3,205.8 603.1,205.9 603.8,206.0 604.6,206.0 605.4,206.2 606.2,206.3 606.9,206.4 607.7,206.5 608.5,206.5 609.3,206.6 610.0,206.5 610.8,206.7 611.6,206.7 612.4,206.8 613.1,206.8 613.9,206.9 614.7,206.9 615.4,207.0 616.2,206.9 617.0,207.0 617.8,206.9 618.5,206.9 619.3,206.8 620.1,206.8 620.9,206.7 621.6,206.8 622.4,206.9 623.2,207.1 624.0,207.1 624.7,207.1 625.5,207.1 626.3,207.1 627.1,207.1 627.8,207.1 628.6,207.1 629.4,207.0 630.1,207.0 630.9,206.9 631.7,207.1 632.5,207.2 633.2,207.2 634.0,207.1 634.8,207.1 635.6,207.2 636.3,207.2 637.1,207.1 637.9,207.1 638.7,206.9 639.4,207.0 640.2,206.9 641.0,207.1 641.8,207.0 642.5,207.1 643.3,207.2 644.1,207.3 644.9,207.3 645.6,207.3 646.4,207.3 647.2,207.3 647.9,207.2 648.7,207.3 649.5,207.1 650.3,207.1 651.0,207.0 651.8,207.0 652.6,207.0 653.4,207.0 654.1,207.0 654.9,206.9 655.7,206.9 656.5,206.9 657.2,206.9 658.0,206.9 658.8,206.8 659.6,206.8 660.3,206.8 661.1,206.8 661.9,206.7 662.6,206.5 663.4,206.4 664.2,206.3 665.0,206.4 665.7,206.3 666.5,206.4 667.3,206.2 668.1,206.1 668.8,206.0 669.6,206.0 670.4,206.0 671.2,205.9 671.9,206.1 672.7,206.2 673.5,206.4 674.3,206.4 675.0,206.6 675.8,206.7 676.6,206.6 677.4,206.6 678.1,206.6 678.9,206.9 679.7,206.8 680.4,206.8 681.2,206.9 682.0,207.0 682.8,207.0 683.5,206.9 684.3,206.9 685.1,207.0 685.9,207.1 686.6,207.1 687.4,207.1 688.2,207.2 689.0,207.2 689.7,207.1 690.5,207.1 691.3,207.2 692.1,207.2 692.8,207.2 693.6,207.1 694.4,207.2 695.1,207.3 695.9,207.3 696.7,207.3 697.5,207.1 698.2,207.1 699.0,207.1 699.8,207.2 700.6,207.2 701.3,207.3 702.1,207.2 702.9,207.3 703.7,207.1 704.4,207.1 705.2,207.1 706.0,207.1 706.8,207.1 707.5,207.2 708.3,207.2 709.1,207.2 709.8,207.1 710.6,207.0 711.4,207.1 712.2,207.3 712.9,207.3 713.7,207.3 714.5,207.2 715.3,207.2 716.0,207.1 716.8,207.2 717.6,207.3 718.4,207.3 719.1,207.4 719.9,207.2 720.7,207.2 721.5,207.1 722.2,207.1 723.0,207.2 723.8,207.1 724.6,207.2 725.3,207.2 726.1,207.2 726.9,207.1 727.6,207.1 728.4,207.2 729.2,207.3 730.0,207.3 730.7,207.3 731.5,207.3 732.3,207.2 733.1,207.2 733.8,207.2 734.6,207.2 735.4,207.2 736.2,207.2 736.9,207.1 737.7,207.1 738.5,207.1 739.3,207.2 740.0,207.1 740.8,207.2 741.6,207.1 742.3,207.2 743.1,207.2 743.9,207.2 744.7,207.2 745.4,207.1 746.2,207.1 747.0,207.1 747.8,207.0 748.5,207.1 749.3,207.0 750.1,207.1 750.9,207.1 751.6,207.1 752.4,207.0 753.2,207.1 754.0,207.1 754.7,207.1 755.5,206.9 756.3,207.0 757.1,207.0 757.8,207.1 758.6,207.1 759.4,207.0 760.1,207.0 760.9,207.0 761.7,207.1 762.5,207.1 763.2,207.2 764.0,207.1 764.8,207.1 765.6,207.0 766.3,207.0 767.1,207.0 767.9,206.8 768.7,206.9 769.4,206.8 770.2,206.9 771.0,206.8 771.8,206.8 772.5,206.8 773.3,206.6 774.1,206.5 774.8,206.4 775.6,206.4 776.4,206.4 777.2,206.4 777.9,206.3 778.7,206.1 779.5,206.0 780.3,205.9 781.0,205.8 781.8,205.6 782.6,205.4 783.4,205.2 784.1,204.8 784.9,204.5 785.7,204.3 786.5,203.9 787.2,203.4 788.0,203.0 788.8,202.6 789.6,202.3 790.3,201.9 791.1,201.6 791.9,201.2 792.6,200.9 793.4,200.8 794.2,200.7 795.0,200.9 795.7,201.0 796.5,201.2 797.3,201.6 798.1,202.0 798.8,202.4 799.6,202.7 800.4,203.0 801.2,203.4 801.9,203.9 802.7,204.4 803.5,204.7 804.3,204.9 805.0,205.1 805.8,205.3 806.6,205.5 807.3,205.7 808.1,205.9 808.9,206.0 809.7,206.1 810.4,206.1 811.2,206.3 812.0,206.3 812.8,206.5 813.5,206.4 814.3,206.5 815.1,206.4 815.9,206.5 816.6,206.6 817.4,206.7 818.2,206.8 819.0,206.8 819.7,206.8 820.5,206.7 821.3,206.8 822.1,206.7 822.8,207.0 823.6,206.9 824.4,206.9 825.1,206.7 825.9,206.7 826.7,206.7 827.5,206.8 828.2,206.8 829.0,206.7 829.8,206.6 830.6,206.5 831.3,206.5 832.1,206.4 832.9,206.4 833.7,206.3 834.4,206.4 835.2,206.3 836.0,206.3 836.8,206.3 837.5,206.3 838.3,206.2 839.1,206.1 839.8,205.9 840.6,205.9 841.4,205.8 842.2,205.8 842.9,205.7 843.7,205.5 844.5,205.2 845.3,205.1 846.0,204.9 846.8,204.8 847.6,204.4 848.4,204.1 849.1,203.8 849.9,203.5 850.7,203.1 851.5,202.6 852.2,202.1 853.0,201.5 853.8,200.9 854.6,200.1 855.3,199.2 856.1,198.4 856.9,197.4 857.6,196.5 858.4,195.5 859.2,194.4 860.0,193.5 860.7,192.5 861.5,191.8 862.3,191.0 863.1,190.6 863.8,190.4 864.6,190.6 865.4,191.0 866.2,191.7 866.9,192.5 867.7,193.4 868.5,194.5 869.3,195.6 870.0,196.6 870.8,197.5 871.6,198.5 872.3,199.4 873.1,200.1 873.9,200.8 874.7,201.5 875.4,202.2 876.2,202.8 877.0,203.2 877.8,203.6 878.5,203.9 879.3,204.3 880.1,204.7 880.9,204.9 881.6,205.2 882.4,205.3 883.2,205.4 884.0,205.4 884.7,205.5 885.5,205.8 886.3,206.0 887.1,206.2 887.8,206.3 888.6,206.3 889.4,206.4 890.1,206.5 890.9,206.6 891.7,206.6 892.5,206.6 893.2,206.6 894.0,206.7 894.8,206.8 895.6,206.9 896.3,207.0 897.1,207.0 897.9,207.0 898.7,207.2 899.4,207.2 900.2,207.3 901.0,207.2 901.8,207.2 902.5,207.1 903.3,207.1 904.1,207.1 904.8,207.1 905.6,207.1 906.4,207.1 907.2,207.1 907.9,207.2 908.7,207.3 909.5,207.3 910.3,207.2 911.0,207.2 911.8,207.2 912.6,207.3 913.4,207.3 914.1,207.3 914.9,207.1 915.7,207.0 916.5,207.1 917.2,207.3 918.0,207.4 918.8,207.4 919.5,207.5 920.3,207.4 921.1,207.4 921.9,207.3 922.6,207.5 923.4,207.4 924.2,207.3 925.0,207.2 925.7,207.4 926.5,207.4 927.3,207.4 928.1,207.2 928.8,207.2 929.6,207.2 930.4,207.1 931.2,207.1 931.9,207.0 932.7,207.0 933.5,207.0 934.3,207.1 935.0,207.2 935.8,207.2 936.6,207.1 937.3,206.9 938.1,206.9 938.9,206.9 939.7,206.8 940.4,206.8 941.2,206.8 942.0,206.9 942.8,206.9 943.5,206.8 944.3,206.7 945.1,206.5 945.9,206.5 946.6,206.5 947.4,206.5 948.2,206.4 949.0,206.3 949.7,206.1 950.5,206.1 951.3,206.0 952.0,205.8 952.8,205.7 953.6,205.5 954.4,205.1 955.1,204.9 955.9,204.6 956.7,204.5 957.5,204.4 958.2,204.0 959.0,203.7 959.8,203.1 960.6,202.6 961.3,202.3 962.1,201.7 962.9,201.2 963.7,200.3 964.4,199.5 965.2,198.8 966.0,198.0 966.8,197.0 967.5,196.0 968.3,194.9 969.1,193.8 969.8,192.7 970.6,191.6 971.4,190.7 972.2,189.9 972.9,189.5 973.7,189.3 974.5,189.3 975.3,189.3 976.0,189.8 976.8,190.5 977.6,191.6 978.4,192.7 979.1,193.7 979.9,194.8 980.7,195.9 981.5,197.0 982.2,198.0 983.0,198.9 983.8,199.7 984.5,200.3 985.3,201.0 986.1,201.8 986.9,202.5 987.6,202.9 988.4,203.3 989.2,203.7 990.0,204.2 990.7,204.6 991.5,204.8 992.3,204.9 993.1,205.1 993.8,205.3 994.6,205.4 995.4,205.6 996.2,205.8 996.9,206.0 997.7,206.1 998.5,206.3 999.3,206.3 1000.0,206.5 1000.8,206.6 1001.6,206.7 1002.3,206.6 1003.1,206.7 1003.9,206.6 1004.7,206.6 1005.4,206.7 1006.2,207.0 1007.0,207.1 1007.8,207.1 1008.5,207.2 1009.3,207.2 1010.1,207.1 1010.9,207.2 1011.6,207.2 1012.4,207.3 1013.2,207.2 1014.0,207.2 1014.7,207.2 1015.5,207.1 1016.3,207.3 1017.0,207.3 1017.8,207.4 1018.6,207.4 1019.4,207.4 1020.1,207.4 1020.9,207.5 1021.7,207.6 1022.5,207.6 1023.2,207.6 1024.0,207.5 1024.8,207.5 1025.6,207.5 1026.3,207.5 1027.1,207.5 1027.9,207.6 1028.7,207.5 1029.4,207.6 1030.2,207.6 1031.0,207.7 1031.8,207.6 1032.5,207.7 1033.3,207.7 1034.1,207.7 1034.8,207.6 1035.6,207.6 1036.4,207.6 1037.2,207.7 1037.9,207.6 1038.7,207.6 1039.5,207.5 1040.3,207.5 1041.0,207.5 1041.8,207.6 1042.6,207.6 1043.4,207.6 1044.1,207.8 1044.9,207.8 1045.7,207.9 1046.5,207.8 1047.2,207.7 1048.0,207.7 1048.8,207.8 1049.5,207.7 1050.3,207.6 1051.1,207.6 1051.9,207.6 1052.6,207.7 1053.4,207.7 1054.2,207.8 1055.0,207.8 1055.7,207.8 1056.5,207.8 1057.3,207.6 1058.1,207.6 1058.8,207.7 1059.6,207.8 1060.4,207.9 1061.2,207.9 1061.9,207.8 1062.7,207.8 1063.5,207.8 1064.3,207.7 1065.0,207.7 1065.8,207.7 1066.6,207.8 1067.3,207.8 1068.1,207.9 1068.9,207.8 1069.7,207.9 1070.4,207.7 1071.2,207.7 1072.0,207.6 1072.8,207.7 1073.5,207.8 1074.3,208.0 1075.1,208.0 1075.9,207.9 1076.6,207.8 1077.4,207.8 1078.2,207.6 1079.0,207.6 1079.7,207.5 1080.5,207.7 1081.3,207.7 1082.0,207.9 1082.8,207.9 1083.6,207.9 1084.4,207.8 1085.1,207.8 1085.9,207.7 1086.7,207.7 1087.5,207.7 1088.2,207.7 1089.0,207.7 1089.8,207.7 1090.6,207.8 1091.3,207.9 1092.1,207.8 1092.9,207.7 1093.7,207.7 1094.4,207.7 1095.2,207.8 1096.0,207.8 1096.7,207.7 1097.5,207.7 1098.3,207.8 1099.1,207.9 1099.8,208.1 1100.6,207.9 1101.4,207.9 1102.2,207.7 1102.9,207.7 1103.7,207.6 1104.5,207.7 1105.3,207.7 1106.0,207.7 1106.8,207.7 1107.6,207.7 1108.4,207.7 1109.1,207.7 1109.9,207.8 1110.7,207.7 1111.5,207.5 1112.2,207.5 1113.0,207.6 1113.8,207.6 1114.5,207.5 1115.3,207.5 1116.1,207.5 1116.9,207.5 1117.6,207.6 1118.4,207.6 1119.2,207.5 1120.0,207.4 1120.7,207.3 1121.5,207.2 1122.3,207.2 1123.1,207.1 1123.8,207.3 1124.6,207.3 1125.4,207.3 1126.2,207.1 1126.9,206.9 1127.7,206.9 1128.5,206.8 1129.2,206.8 1130.0,206.7 1130.8,206.8 1131.6,206.8 1132.3,206.6 1133.1,206.4 1133.9,206.2 1134.7,206.1 1135.4,206.0 1136.2,205.9 1137.0,205.9 1137.8,205.6 1138.5,205.6 1139.3,205.4 1140.1,205.4 1140.9,205.4 1141.6,205.5 1142.4,205.7 1143.2,205.7 1144.0,205.8 1144.7,206.0 1145.5,206.2 1146.3,206.3 1147.0,206.2 1147.8,206.3 1148.6,206.5 1149.4,206.6 1150.1,206.7 1150.9,206.9 1151.7,207.1 1152.5,207.1 1153.2,207.1 1154.0,207.1 1154.8,207.1 1155.6,207.1 1156.3,207.2 1157.1,207.2 1157.9,207.2 1158.7,207.3 1159.4,207.4 1160.2,207.4 1161.0,207.5 1161.7,207.6 1162.5,207.5 1163.3,207.4 1164.1,207.4 1164.8,207.5 1165.6,207.5 1166.4,207.5 1167.2,207.4 1167.9,207.4 1168.7,207.5 1169.5,207.6 1170.3,207.5 1171.0,207.4 1171.8,207.5 1172.6,207.4 1173.4,207.5 1174.1,207.5 1174.9,207.6 1175.7,207.7 1176.5,207.6 1177.2,207.5 1178.0,207.6 1178.8,207.4 1179.5,207.4 1180.3,207.2 1181.1,207.3 1181.9,207.1 1182.6,207.1 1183.4,207.1 1184.2,207.1 1185.0,207.1 1185.7,207.0 1186.5,206.9 1187.3,206.9 1188.1,206.8 1188.8,206.8 1189.6,206.4 1190.4,206.3 1191.2,206.0 1191.9,206.1 1192.7,206.0 1193.5,205.9 1194.2,205.7 1195.0,205.5 1195.8,205.3 1196.6,205.1 1197.3,205.0 1198.1,204.8 1198.9,204.7 1199.7,204.6 1200.4,204.7 1201.2,204.5 1202.0,204.5 1202.8,204.6 1203.5,204.8 1204.3,205.0 1205.1,205.1 1205.9,205.1 1206.6,205.3 1207.4,205.5 1208.2,205.9 1209.0,206.1 1209.7,206.2 1210.5,206.3 1211.3,206.3 1212.0,206.3 1212.8,206.4 1213.6,206.5 1214.4,206.7 1215.1,206.8 1215.9,207.0 1216.7,207.0 1217.5,207.0 1218.2,206.9 1219.0,207.1 1219.8,207.4 1220.6,207.5 1221.3,207.5 1222.1,207.3 1222.9,207.5 1223.7,207.4 1224.4,207.4 1225.2,207.4 1226.0,207.5 1226.7,207.5 1227.5,207.6 1228.3,207.7 1229.1,207.6 1229.8,207.6 1230.6,207.4 1231.4,207.4 1232.2,207.5 1232.9,207.6 1233.7,207.6 1234.5,207.5 1235.3,207.6 1236.0,207.5 1236.8,207.7 1237.6,207.7 1238.4,207.8 1239.1,207.7 1239.9,207.7 1240.7,207.8 1241.5,207.7 1242.2,207.6 1243.0,207.5 1243.8,207.7 1244.5,207.7 1245.3,207.7 1246.1,207.6 1246.9,207.6 1247.6,207.6 1248.4,207.6 1249.2,207.6 1250.0,207.6 1250.7,207.7 1251.5,207.7 1252.3,207.7 1253.1,207.8 1253.8,207.8 1254.6,207.9 1255.4,207.8 1256.2,207.9 1256.9,207.9 1257.7,207.8 1258.5,207.7 1259.2,207.6 1260.0,207.6 1260.8,207.7 1261.6,207.7 1262.3,207.9 1263.1,207.9 1263.9,207.9 1264.7,207.8 1265.4,207.7 1266.2,207.6 1267.0,207.7 1267.8,207.8 1268.5,207.8 1269.3,207.7 1270.1,207.7 1270.9,207.7 1271.6,207.7 1272.4,207.7 1273.2,207.8 1274.0,207.9 1274.7,207.9 1275.5,207.8 1276.3,207.7 1277.0,207.7 1277.8,207.7 1278.6,207.7 1279.4,207.8 1280.1,207.9 1280.9,207.9 1281.7,207.8 1282.5,207.7 1283.2,207.6 1284.0,207.6 1284.8,207.7 1285.6,207.7 1286.3,207.8 1287.1,207.8 1287.9,207.9 1288.7,207.9 1289.4,207.9 1290.2,207.8" fill="none" stroke="#0000ff" stroke-width="9.0" stroke-linejoin="round" stroke-linecap="butt"/>
<rect x="129.5" y="21.2" width="1160.7" height="898.5" fill="none" stroke="#000" stroke-width="6.2"/>
<line x1="129.5" y1="919.7" x2="129.5" y2="936.5" stroke="#000" stroke-width="6.2"/>
<line x1="226.2" y1="919.7" x2="226.2" y2="928" stroke="#000" stroke-width="6.2"/>
<line x1="323.0" y1="919.7" x2="323.0" y2="936.5" stroke="#000" stroke-width="6.2"/>
<line x1="419.7" y1="919.7" x2="419.7" y2="928" stroke="#000" stroke-width="6.2"/>
<line x1="516.4" y1="919.7" x2="516.4" y2="936.5" stroke="#000" stroke-width="6.2"/>
<line x1="613.1" y1="919.7" x2="613.1" y2="928" stroke="#000" stroke-width="6.2"/>
<line x1="709.9" y1="919.7" x2="709.9" y2="936.5" stroke="#000" stroke-width="6.2"/>
<line x1="806.6" y1="919.7" x2="806.6" y2="928" stroke="#000" stroke-width="6.2"/>
<line x1="903.3" y1="919.7" x2="903.3" y2="936.5" stroke="#000" stroke-width="6.2"/>
<line x1="1000.0" y1="919.7" x2="1000.0" y2="928" stroke="#000" stroke-width="6.2"/>
<line x1="1096.8" y1="919.7" x2="1096.8" y2="936.5" stroke="#000" stroke-width="6.2"/>
<line x1="1193.5" y1="919.7" x2="1193.5" y2="928" stroke="#000" stroke-width="6.2"/>
<line x1="1290.2" y1="919.7" x2="1290.2" y2="936.5" stroke="#000" stroke-width="6.2"/>
<text x="129.2" y="992.2" text-anchor="middle" font-family="Liberation Serif, Times New Roman, serif" font-weight="bold" font-size="57">20</text>
<text x="322.7" y="992.2" text-anchor="middle" font-family="Liberation Serif, Times New Roman, serif" font-weight="bold" font-size="57">30</text>
<text x="516.1" y="992.2" text-anchor="middle" font-family="Liberation Serif, Times New Roman, serif" font-weight="bold" font-size="57">40</text>
<text x="709.6" y="992.2" text-anchor="middle" font-family="Liberation Serif, Times New Roman, serif" font-weight="bold" font-size="57">50</text>
<text x="903.0" y="992.2" text-anchor="middle" font-family="Liberation Serif, Times New Roman, serif" font-weight="bold" font-size="57">60</text>
<text x="1096.5" y="992.2" text-anchor="middle" font-family="Liberation Serif, Times New Roman, serif" font-weight="bold" font-size="57">70</text>
<text x="1289.9" y="992.2" text-anchor="middle" font-family="Liberation Serif, Times New Roman, serif" font-weight="bold" font-size="57">80</text>
<text x="132.04" y="264.00" font-family="Liberation Serif, Times New Roman, serif" font-weight="bold" font-style="normal" font-size="59" fill="#0000ff" textLength="301.33" lengthAdjust="spacing" >ZFASm0.08</text>
<text x="131.81" y="402.30" font-family="Liberation Serif, Times New Roman, serif" font-weight="bold" font-style="normal" font-size="59" fill="#008000" textLength="301.36" lengthAdjust="spacing" >ZFASm0.06</text>
<text x="135.27" y="542.80" font-family="Liberation Serif, Times New Roman, serif" font-weight="bold" font-style="normal" font-size="59" fill="#ff00ff" textLength="300.63" lengthAdjust="spacing" >ZFASm0.04</text>
<text x="133.45" y="685.60" font-family="Liberation Serif, Times New Roman, serif" font-weight="bold" font-style="normal" font-size="59" fill="#000" textLength="302.15" lengthAdjust="spacing" >ZFASm0.02</text>
<text x="133.65" y="827.80" font-family="Liberation Serif, Times New Roman, serif" font-weight="bold" font-style="normal" font-size="59" fill="#ff0000" textLength="118.39" lengthAdjust="spacing" >ZFA</text>
<text x="868.59" y="827.80" font-family="Liberation Serif, Times New Roman, serif" font-weight="bold" font-style="normal" font-size="59" fill="#0000a0" textLength="413.03" lengthAdjust="spacing" >JCPDS: 22-1012</text>
<text transform="translate(57.33,644.07) rotate(-90)" font-family="Liberation Serif, Times New Roman, serif" font-weight="bold" font-style="italic" font-size="58" fill="#000" textLength="358.43" lengthAdjust="spacing" >Intensity (a.u.)</text>
<text transform="translate(349.82,168.88) rotate(-90)" font-family="Liberation Serif, Times New Roman, serif" font-weight="bold" font-style="italic" font-size="46" fill="#000" textLength="100.67" lengthAdjust="spacing" stroke="#000" stroke-width="0.8">(220)</text>
<text transform="translate(446.11,133.15) rotate(-90)" font-family="Liberation Serif, Times New Roman, serif" font-weight="normal" font-style="italic" font-size="46" fill="#000" textLength="97.68" lengthAdjust="spacing" stroke="#000" stroke-width="1.1">(311)</text>
<text transform="translate(488.13,187.55) rotate(-90)" font-family="Liberation Serif, Times New Roman, serif" font-weight="normal" font-style="italic" font-size="46" fill="#000" textLength="96.19" lengthAdjust="spacing" stroke="#000" stroke-width="1.1">(222)</text>
<text transform="translate(603.27,187.18) rotate(-90)" font-family="Liberation Serif, Times New Roman, serif" font-weight="bold" font-style="italic" font-size="46" fill="#000" textLength="101.01" lengthAdjust="spacing" stroke="#000" stroke-width="0.8">(400)</text>
<text transform="translate(801.91,184.65) rotate(-90)" font-family="Liberation Serif, Times New Roman, serif" font-weight="bold" font-style="italic" font-size="46" fill="#000" textLength="99.73" lengthAdjust="spacing" stroke="#000" stroke-width="0.8">(422)</text>
<text transform="translate(875.12,174.11) rotate(-90)" font-family="Liberation Serif, Times New Roman, serif" font-weight="bold" font-style="italic" font-size="46" fill="#000" textLength="98.86" lengthAdjust="spacing" stroke="#000" stroke-width="0.8">(511)</text>
<text transform="translate(986.90,174.11) rotate(-90)" font-family="Liberation Serif, Times New Roman, serif" font-weight="bold" font-style="italic" font-size="46" fill="#000" textLength="99.99" lengthAdjust="spacing" stroke="#000" stroke-width="0.8">(440)</text>
<text transform="translate(1149.83,187.18) rotate(-90)" font-family="Liberation Serif, Times New Roman, serif" font-weight="bold" font-style="italic" font-size="46" fill="#000" textLength="100.25" lengthAdjust="spacing" stroke="#000" stroke-width="0.8">(620)</text>
<text transform="translate(1211.71,186.55) rotate(-90)" font-family="Liberation Serif, Times New Roman, serif" font-weight="normal" font-style="italic" font-size="46" fill="#000" textLength="97.95" lengthAdjust="spacing" stroke="#000" stroke-width="1.1">(533)</text>
<text x="562.67" y="1083.00" font-family="Liberation Serif, Times New Roman, serif" font-weight="bold" font-style="italic" font-size="61.5" fill="#000" textLength="30.55" lengthAdjust="spacingAndGlyphs" >2</text>
<text x="594.98" y="1083.00" font-family="Liberation Serif, Times New Roman, serif" font-weight="bold" font-style="italic" font-size="58" fill="#000" textLength="35.02" lengthAdjust="spacingAndGlyphs" >θ</text>
<text x="635.62" y="1083.00" font-family="Liberation Serif, Times New Roman, serif" font-weight="bold" font-style="italic" font-size="58" fill="#000" textLength="222.14" lengthAdjust="spacing" >(degrees)</text>
</svg>
</body></html>
